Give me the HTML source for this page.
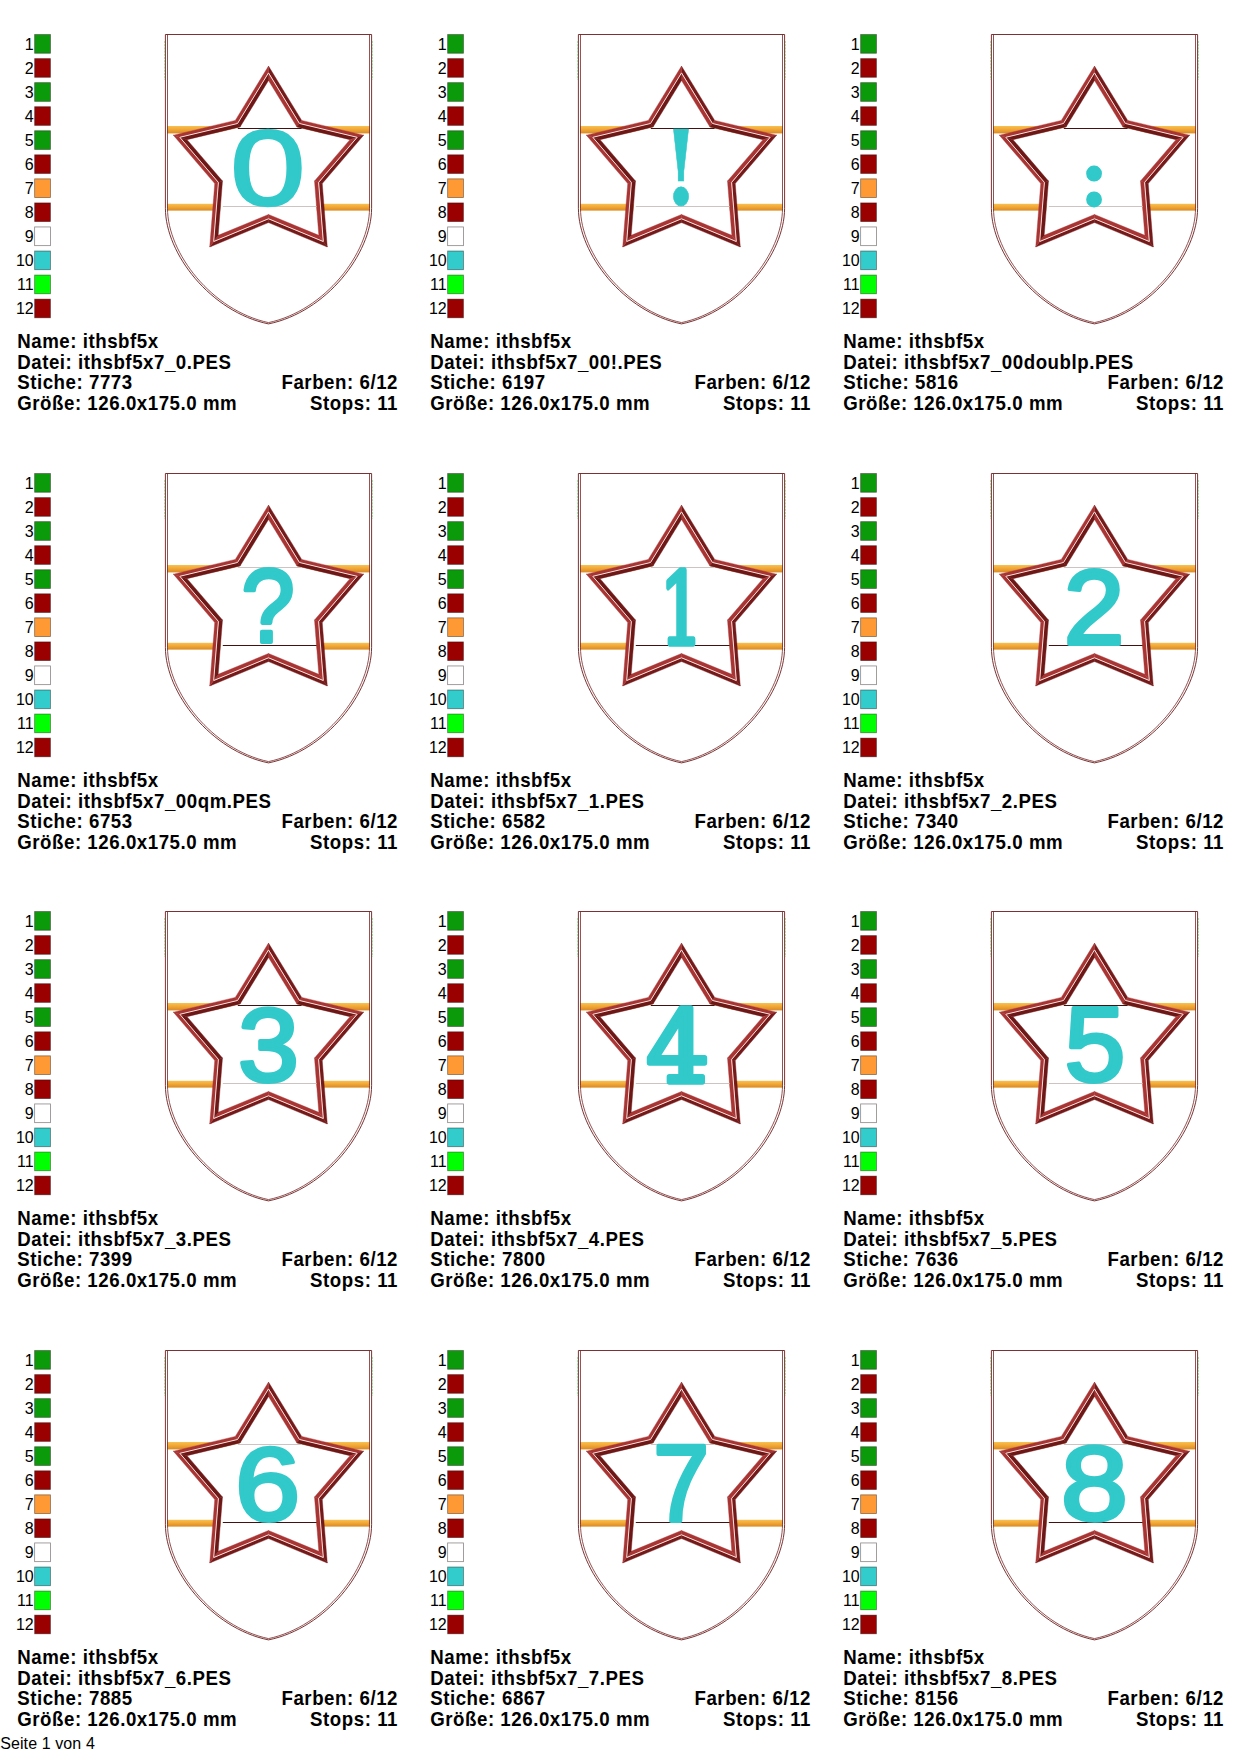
<!DOCTYPE html>
<html lang="de"><head><meta charset="utf-8"><title>Seite 1 von 4</title>
<style>
html,body{margin:0;padding:0;background:#fff;}
body{width:1240px;height:1754px;position:relative;overflow:hidden;font-family:"Liberation Sans",sans-serif;color:#000;}
.c{position:absolute;width:413px;height:438px;}
.d{position:absolute;left:0;top:0;}
.t{position:absolute;font-weight:bold;font-size:18.67px;line-height:21px;height:21px;white-space:nowrap;letter-spacing:0.55px;transform:scaleY(1.065);transform-origin:0 16.97px;}
.l{left:17.2px;}
.r{right:15px;text-align:right;}
.f{position:absolute;left:0.2px;top:1735.3px;font-size:16px;line-height:18px;white-space:nowrap;letter-spacing:0.1px;}
</style></head><body>
<div class="c" style="left:0px;top:0px"><svg class="d" width="413" height="438" viewBox="0 0 413 438"><defs><linearGradient id="og0" x1="0" y1="0" x2="0" y2="1"><stop offset="0" stop-color="#f8c04e"/><stop offset="0.45" stop-color="#f2a838"/><stop offset="1" stop-color="#d98a22"/></linearGradient></defs><rect x="167" y="126" width="203" height="7.4" fill="url(#og0)"/><rect x="167" y="203.8" width="203" height="6.8" fill="url(#og0)"/><path d="M165.40,34.5 H371.60 V208.3 C371.60,253.70 326.00,312.20 268.5,323.90 C211.00,312.20 165.40,253.70 165.40,208.3 Z" fill="none" stroke="#6a1c1c" stroke-width="0.9"/><path d="M167.50,34.5 M369.50,34.5 V208.3 C369.50,253.20 324.80,310.70 268.5,322.60 C212.20,310.70 167.50,253.20 167.50,208.3 V34.5" fill="none" stroke="#782626" stroke-width="0.8"/><path d="M164.5,41 V80 M372.5,41 V80" stroke="#8fd88f" stroke-width="0.8" stroke-dasharray="2 1.2" fill="none"/><polygon points="268.50,80.47 296.94,126.96 349.94,139.64 314.51,181.05 318.83,235.37 268.50,214.48 218.17,235.37 222.49,181.05 187.06,139.64 240.06,126.96" fill="#fff"/><polygon points="268.50,66.10 301.71,120.39 299.47,123.48 268.50,72.86" fill="#741a1a" stroke="#741a1a" stroke-width="0.4"/><polygon points="268.50,72.86 299.47,123.48 296.94,126.96 268.50,80.47" fill="#a83434" stroke="#a83434" stroke-width="0.4"/><polygon points="301.71,120.39 363.61,135.20 357.18,137.29 299.47,123.48" fill="#a83434" stroke="#a83434" stroke-width="0.4"/><polygon points="299.47,123.48 357.18,137.29 349.94,139.64 296.94,126.96" fill="#6e1717" stroke="#6e1717" stroke-width="0.4"/><polygon points="363.61,135.20 322.23,183.56 318.60,182.38 357.18,137.29" fill="#741a1a" stroke="#741a1a" stroke-width="0.4"/><polygon points="357.18,137.29 318.60,182.38 314.51,181.05 349.94,139.64" fill="#a83434" stroke="#a83434" stroke-width="0.4"/><polygon points="322.23,183.56 327.28,247.00 323.31,241.54 318.60,182.38" fill="#741a1a" stroke="#741a1a" stroke-width="0.4"/><polygon points="318.60,182.38 323.31,241.54 318.83,235.37 314.51,181.05" fill="#a83434" stroke="#a83434" stroke-width="0.4"/><polygon points="327.28,247.00 268.50,222.60 268.50,218.78 323.31,241.54" fill="#741a1a" stroke="#741a1a" stroke-width="0.4"/><polygon points="323.31,241.54 268.50,218.78 268.50,214.48 318.83,235.37" fill="#a83434" stroke="#a83434" stroke-width="0.4"/><polygon points="268.50,222.60 209.72,247.00 213.69,241.54 268.50,218.78" fill="#741a1a" stroke="#741a1a" stroke-width="0.4"/><polygon points="268.50,218.78 213.69,241.54 218.17,235.37 268.50,214.48" fill="#a83434" stroke="#a83434" stroke-width="0.4"/><polygon points="209.72,247.00 214.77,183.56 218.40,182.38 213.69,241.54" fill="#a83434" stroke="#a83434" stroke-width="0.4"/><polygon points="213.69,241.54 218.40,182.38 222.49,181.05 218.17,235.37" fill="#6e1717" stroke="#6e1717" stroke-width="0.4"/><polygon points="214.77,183.56 173.39,135.20 179.82,137.29 218.40,182.38" fill="#a83434" stroke="#a83434" stroke-width="0.4"/><polygon points="218.40,182.38 179.82,137.29 187.06,139.64 222.49,181.05" fill="#6e1717" stroke="#6e1717" stroke-width="0.4"/><polygon points="173.39,135.20 235.29,120.39 237.53,123.48 179.82,137.29" fill="#a83434" stroke="#a83434" stroke-width="0.4"/><polygon points="179.82,137.29 237.53,123.48 240.06,126.96 187.06,139.64" fill="#6e1717" stroke="#6e1717" stroke-width="0.4"/><polygon points="235.29,120.39 268.50,66.10 268.50,72.86 237.53,123.48" fill="#a83434" stroke="#a83434" stroke-width="0.4"/><polygon points="237.53,123.48 268.50,72.86 268.50,80.47 240.06,126.96" fill="#6e1717" stroke="#6e1717" stroke-width="0.4"/><polygon points="268.50,72.86 299.47,123.48 357.18,137.29 318.60,182.38 323.31,241.54 268.50,218.78 213.69,241.54 218.40,182.38 179.82,137.29 237.53,123.48" fill="none" stroke="#fbe4de" stroke-width="1" stroke-linejoin="miter"/><path d="M237.8,128.5 H301.6" stroke="#451010" stroke-width="1"/><path d="M222.8,206.5 H316.6" stroke="#cdc3c3" stroke-width="1"/><text transform="matrix(1.3515 0 0 1.0706 230.23 205.43)" x="0" y="0" font-family="'Liberation Sans',sans-serif" font-weight="normal" font-size="100" fill="#31c9c9" stroke="#31c9c9" stroke-width="2.31" stroke-linejoin="round">0</text><g font-family="'Liberation Sans',sans-serif" font-size="16" text-anchor="end" fill="#000"><rect x="34.65" y="34.55" width="15.8" height="18.7" fill="#0a9a0a" stroke="#1a0d0d" stroke-opacity="0.5" stroke-width="0.8"/><text x="33.7" y="49.85">1</text><rect x="34.65" y="58.60" width="15.8" height="18.7" fill="#9a0000" stroke="#1a0d0d" stroke-opacity="0.5" stroke-width="0.8"/><text x="33.7" y="73.90">2</text><rect x="34.65" y="82.65" width="15.8" height="18.7" fill="#0a9a0a" stroke="#1a0d0d" stroke-opacity="0.5" stroke-width="0.8"/><text x="33.7" y="97.95">3</text><rect x="34.65" y="106.70" width="15.8" height="18.7" fill="#9a0000" stroke="#1a0d0d" stroke-opacity="0.5" stroke-width="0.8"/><text x="33.7" y="122.00">4</text><rect x="34.65" y="130.75" width="15.8" height="18.7" fill="#0a9a0a" stroke="#1a0d0d" stroke-opacity="0.5" stroke-width="0.8"/><text x="33.7" y="146.05">5</text><rect x="34.65" y="154.80" width="15.8" height="18.7" fill="#9a0000" stroke="#1a0d0d" stroke-opacity="0.5" stroke-width="0.8"/><text x="33.7" y="170.10">6</text><rect x="34.65" y="178.85" width="15.8" height="18.7" fill="#ff9933" stroke="#1a0d0d" stroke-opacity="0.5" stroke-width="0.8"/><text x="33.7" y="194.15">7</text><rect x="34.65" y="202.90" width="15.8" height="18.7" fill="#9a0000" stroke="#1a0d0d" stroke-opacity="0.5" stroke-width="0.8"/><text x="33.7" y="218.20">8</text><rect x="34.65" y="226.95" width="15.8" height="18.7" fill="#ffffff" stroke="#1a0d0d" stroke-opacity="0.5" stroke-width="0.8"/><text x="33.7" y="242.25">9</text><rect x="34.65" y="251.00" width="15.8" height="18.7" fill="#33cccc" stroke="#1a0d0d" stroke-opacity="0.5" stroke-width="0.8"/><text x="33.7" y="266.30">10</text><rect x="34.65" y="275.05" width="15.8" height="18.7" fill="#00ff00" stroke="#1a0d0d" stroke-opacity="0.5" stroke-width="0.8"/><text x="33.7" y="290.35">11</text><rect x="34.65" y="299.10" width="15.8" height="18.7" fill="#9a0000" stroke="#1a0d0d" stroke-opacity="0.5" stroke-width="0.8"/><text x="33.7" y="314.40">12</text></g></svg><div class="t l" style="top:330.83px">Name: ithsbf5x</div><div class="t l" style="top:351.63px">Datei: ithsbf5x7_0.PES</div><div class="t l" style="top:372.43px">Stiche: 7773</div><div class="t r" style="top:372.43px">Farben: 6/12</div><div class="t l" style="top:393.23px">Größe: 126.0x175.0 mm</div><div class="t r" style="top:393.23px">Stops: 11</div></div>
<div class="c" style="left:413px;top:0px"><svg class="d" width="413" height="438" viewBox="0 0 413 438"><defs><linearGradient id="og1" x1="0" y1="0" x2="0" y2="1"><stop offset="0" stop-color="#f8c04e"/><stop offset="0.45" stop-color="#f2a838"/><stop offset="1" stop-color="#d98a22"/></linearGradient></defs><rect x="167" y="126" width="203" height="7.4" fill="url(#og1)"/><rect x="167" y="203.8" width="203" height="6.8" fill="url(#og1)"/><path d="M165.40,34.5 H371.60 V208.3 C371.60,253.70 326.00,312.20 268.5,323.90 C211.00,312.20 165.40,253.70 165.40,208.3 Z" fill="none" stroke="#6a1c1c" stroke-width="0.9"/><path d="M167.50,34.5 M369.50,34.5 V208.3 C369.50,253.20 324.80,310.70 268.5,322.60 C212.20,310.70 167.50,253.20 167.50,208.3 V34.5" fill="none" stroke="#782626" stroke-width="0.8"/><path d="M164.5,41 V80 M372.5,41 V80" stroke="#8fd88f" stroke-width="0.8" stroke-dasharray="2 1.2" fill="none"/><polygon points="268.50,80.47 296.94,126.96 349.94,139.64 314.51,181.05 318.83,235.37 268.50,214.48 218.17,235.37 222.49,181.05 187.06,139.64 240.06,126.96" fill="#fff"/><polygon points="268.50,66.10 301.71,120.39 299.47,123.48 268.50,72.86" fill="#741a1a" stroke="#741a1a" stroke-width="0.4"/><polygon points="268.50,72.86 299.47,123.48 296.94,126.96 268.50,80.47" fill="#a83434" stroke="#a83434" stroke-width="0.4"/><polygon points="301.71,120.39 363.61,135.20 357.18,137.29 299.47,123.48" fill="#a83434" stroke="#a83434" stroke-width="0.4"/><polygon points="299.47,123.48 357.18,137.29 349.94,139.64 296.94,126.96" fill="#6e1717" stroke="#6e1717" stroke-width="0.4"/><polygon points="363.61,135.20 322.23,183.56 318.60,182.38 357.18,137.29" fill="#741a1a" stroke="#741a1a" stroke-width="0.4"/><polygon points="357.18,137.29 318.60,182.38 314.51,181.05 349.94,139.64" fill="#a83434" stroke="#a83434" stroke-width="0.4"/><polygon points="322.23,183.56 327.28,247.00 323.31,241.54 318.60,182.38" fill="#741a1a" stroke="#741a1a" stroke-width="0.4"/><polygon points="318.60,182.38 323.31,241.54 318.83,235.37 314.51,181.05" fill="#a83434" stroke="#a83434" stroke-width="0.4"/><polygon points="327.28,247.00 268.50,222.60 268.50,218.78 323.31,241.54" fill="#741a1a" stroke="#741a1a" stroke-width="0.4"/><polygon points="323.31,241.54 268.50,218.78 268.50,214.48 318.83,235.37" fill="#a83434" stroke="#a83434" stroke-width="0.4"/><polygon points="268.50,222.60 209.72,247.00 213.69,241.54 268.50,218.78" fill="#741a1a" stroke="#741a1a" stroke-width="0.4"/><polygon points="268.50,218.78 213.69,241.54 218.17,235.37 268.50,214.48" fill="#a83434" stroke="#a83434" stroke-width="0.4"/><polygon points="209.72,247.00 214.77,183.56 218.40,182.38 213.69,241.54" fill="#a83434" stroke="#a83434" stroke-width="0.4"/><polygon points="213.69,241.54 218.40,182.38 222.49,181.05 218.17,235.37" fill="#6e1717" stroke="#6e1717" stroke-width="0.4"/><polygon points="214.77,183.56 173.39,135.20 179.82,137.29 218.40,182.38" fill="#a83434" stroke="#a83434" stroke-width="0.4"/><polygon points="218.40,182.38 179.82,137.29 187.06,139.64 222.49,181.05" fill="#6e1717" stroke="#6e1717" stroke-width="0.4"/><polygon points="173.39,135.20 235.29,120.39 237.53,123.48 179.82,137.29" fill="#a83434" stroke="#a83434" stroke-width="0.4"/><polygon points="179.82,137.29 237.53,123.48 240.06,126.96 187.06,139.64" fill="#6e1717" stroke="#6e1717" stroke-width="0.4"/><polygon points="235.29,120.39 268.50,66.10 268.50,72.86 237.53,123.48" fill="#a83434" stroke="#a83434" stroke-width="0.4"/><polygon points="237.53,123.48 268.50,72.86 268.50,80.47 240.06,126.96" fill="#6e1717" stroke="#6e1717" stroke-width="0.4"/><polygon points="268.50,72.86 299.47,123.48 357.18,137.29 318.60,182.38 323.31,241.54 268.50,218.78 213.69,241.54 218.40,182.38 179.82,137.29 237.53,123.48" fill="none" stroke="#fbe4de" stroke-width="1" stroke-linejoin="miter"/><path d="M237.8,128.5 H301.6" stroke="#451010" stroke-width="1"/><path d="M222.8,206.5 H316.6" stroke="#cdc3c3" stroke-width="1"/><text transform="matrix(0.8216 0 0 1.0256 249.97 204.96)" x="0" y="0" font-family="'DejaVu Serif','Liberation Serif',serif" font-weight="bold" font-size="100" fill="#31c9c9" stroke="#31c9c9" stroke-width="0.65" stroke-linejoin="round">!</text><g font-family="'Liberation Sans',sans-serif" font-size="16" text-anchor="end" fill="#000"><rect x="34.65" y="34.55" width="15.8" height="18.7" fill="#0a9a0a" stroke="#1a0d0d" stroke-opacity="0.5" stroke-width="0.8"/><text x="33.7" y="49.85">1</text><rect x="34.65" y="58.60" width="15.8" height="18.7" fill="#9a0000" stroke="#1a0d0d" stroke-opacity="0.5" stroke-width="0.8"/><text x="33.7" y="73.90">2</text><rect x="34.65" y="82.65" width="15.8" height="18.7" fill="#0a9a0a" stroke="#1a0d0d" stroke-opacity="0.5" stroke-width="0.8"/><text x="33.7" y="97.95">3</text><rect x="34.65" y="106.70" width="15.8" height="18.7" fill="#9a0000" stroke="#1a0d0d" stroke-opacity="0.5" stroke-width="0.8"/><text x="33.7" y="122.00">4</text><rect x="34.65" y="130.75" width="15.8" height="18.7" fill="#0a9a0a" stroke="#1a0d0d" stroke-opacity="0.5" stroke-width="0.8"/><text x="33.7" y="146.05">5</text><rect x="34.65" y="154.80" width="15.8" height="18.7" fill="#9a0000" stroke="#1a0d0d" stroke-opacity="0.5" stroke-width="0.8"/><text x="33.7" y="170.10">6</text><rect x="34.65" y="178.85" width="15.8" height="18.7" fill="#ff9933" stroke="#1a0d0d" stroke-opacity="0.5" stroke-width="0.8"/><text x="33.7" y="194.15">7</text><rect x="34.65" y="202.90" width="15.8" height="18.7" fill="#9a0000" stroke="#1a0d0d" stroke-opacity="0.5" stroke-width="0.8"/><text x="33.7" y="218.20">8</text><rect x="34.65" y="226.95" width="15.8" height="18.7" fill="#ffffff" stroke="#1a0d0d" stroke-opacity="0.5" stroke-width="0.8"/><text x="33.7" y="242.25">9</text><rect x="34.65" y="251.00" width="15.8" height="18.7" fill="#33cccc" stroke="#1a0d0d" stroke-opacity="0.5" stroke-width="0.8"/><text x="33.7" y="266.30">10</text><rect x="34.65" y="275.05" width="15.8" height="18.7" fill="#00ff00" stroke="#1a0d0d" stroke-opacity="0.5" stroke-width="0.8"/><text x="33.7" y="290.35">11</text><rect x="34.65" y="299.10" width="15.8" height="18.7" fill="#9a0000" stroke="#1a0d0d" stroke-opacity="0.5" stroke-width="0.8"/><text x="33.7" y="314.40">12</text></g></svg><div class="t l" style="top:330.83px">Name: ithsbf5x</div><div class="t l" style="top:351.63px">Datei: ithsbf5x7_00!.PES</div><div class="t l" style="top:372.43px">Stiche: 6197</div><div class="t r" style="top:372.43px">Farben: 6/12</div><div class="t l" style="top:393.23px">Größe: 126.0x175.0 mm</div><div class="t r" style="top:393.23px">Stops: 11</div></div>
<div class="c" style="left:826px;top:0px"><svg class="d" width="413" height="438" viewBox="0 0 413 438"><defs><linearGradient id="og2" x1="0" y1="0" x2="0" y2="1"><stop offset="0" stop-color="#f8c04e"/><stop offset="0.45" stop-color="#f2a838"/><stop offset="1" stop-color="#d98a22"/></linearGradient></defs><rect x="167" y="126" width="203" height="7.4" fill="url(#og2)"/><rect x="167" y="203.8" width="203" height="6.8" fill="url(#og2)"/><path d="M165.40,34.5 H371.60 V208.3 C371.60,253.70 326.00,312.20 268.5,323.90 C211.00,312.20 165.40,253.70 165.40,208.3 Z" fill="none" stroke="#6a1c1c" stroke-width="0.9"/><path d="M167.50,34.5 M369.50,34.5 V208.3 C369.50,253.20 324.80,310.70 268.5,322.60 C212.20,310.70 167.50,253.20 167.50,208.3 V34.5" fill="none" stroke="#782626" stroke-width="0.8"/><path d="M164.5,41 V80 M372.5,41 V80" stroke="#8fd88f" stroke-width="0.8" stroke-dasharray="2 1.2" fill="none"/><polygon points="268.50,80.47 296.94,126.96 349.94,139.64 314.51,181.05 318.83,235.37 268.50,214.48 218.17,235.37 222.49,181.05 187.06,139.64 240.06,126.96" fill="#fff"/><polygon points="268.50,66.10 301.71,120.39 299.47,123.48 268.50,72.86" fill="#741a1a" stroke="#741a1a" stroke-width="0.4"/><polygon points="268.50,72.86 299.47,123.48 296.94,126.96 268.50,80.47" fill="#a83434" stroke="#a83434" stroke-width="0.4"/><polygon points="301.71,120.39 363.61,135.20 357.18,137.29 299.47,123.48" fill="#a83434" stroke="#a83434" stroke-width="0.4"/><polygon points="299.47,123.48 357.18,137.29 349.94,139.64 296.94,126.96" fill="#6e1717" stroke="#6e1717" stroke-width="0.4"/><polygon points="363.61,135.20 322.23,183.56 318.60,182.38 357.18,137.29" fill="#741a1a" stroke="#741a1a" stroke-width="0.4"/><polygon points="357.18,137.29 318.60,182.38 314.51,181.05 349.94,139.64" fill="#a83434" stroke="#a83434" stroke-width="0.4"/><polygon points="322.23,183.56 327.28,247.00 323.31,241.54 318.60,182.38" fill="#741a1a" stroke="#741a1a" stroke-width="0.4"/><polygon points="318.60,182.38 323.31,241.54 318.83,235.37 314.51,181.05" fill="#a83434" stroke="#a83434" stroke-width="0.4"/><polygon points="327.28,247.00 268.50,222.60 268.50,218.78 323.31,241.54" fill="#741a1a" stroke="#741a1a" stroke-width="0.4"/><polygon points="323.31,241.54 268.50,218.78 268.50,214.48 318.83,235.37" fill="#a83434" stroke="#a83434" stroke-width="0.4"/><polygon points="268.50,222.60 209.72,247.00 213.69,241.54 268.50,218.78" fill="#741a1a" stroke="#741a1a" stroke-width="0.4"/><polygon points="268.50,218.78 213.69,241.54 218.17,235.37 268.50,214.48" fill="#a83434" stroke="#a83434" stroke-width="0.4"/><polygon points="209.72,247.00 214.77,183.56 218.40,182.38 213.69,241.54" fill="#a83434" stroke="#a83434" stroke-width="0.4"/><polygon points="213.69,241.54 218.40,182.38 222.49,181.05 218.17,235.37" fill="#6e1717" stroke="#6e1717" stroke-width="0.4"/><polygon points="214.77,183.56 173.39,135.20 179.82,137.29 218.40,182.38" fill="#a83434" stroke="#a83434" stroke-width="0.4"/><polygon points="218.40,182.38 179.82,137.29 187.06,139.64 222.49,181.05" fill="#6e1717" stroke="#6e1717" stroke-width="0.4"/><polygon points="173.39,135.20 235.29,120.39 237.53,123.48 179.82,137.29" fill="#a83434" stroke="#a83434" stroke-width="0.4"/><polygon points="179.82,137.29 237.53,123.48 240.06,126.96 187.06,139.64" fill="#6e1717" stroke="#6e1717" stroke-width="0.4"/><polygon points="235.29,120.39 268.50,66.10 268.50,72.86 237.53,123.48" fill="#a83434" stroke="#a83434" stroke-width="0.4"/><polygon points="237.53,123.48 268.50,72.86 268.50,80.47 240.06,126.96" fill="#6e1717" stroke="#6e1717" stroke-width="0.4"/><polygon points="268.50,72.86 299.47,123.48 357.18,137.29 318.60,182.38 323.31,241.54 268.50,218.78 213.69,241.54 218.40,182.38 179.82,137.29 237.53,123.48" fill="none" stroke="#fbe4de" stroke-width="1" stroke-linejoin="miter"/><path d="M237.8,128.5 H301.6" stroke="#451010" stroke-width="1"/><path d="M222.8,206.5 H316.6" stroke="#cdc3c3" stroke-width="1"/><text transform="matrix(0.8025 0 0 0.8033 254.92 204.78)" x="0" y="0" font-family="'Liberation Serif',serif" font-weight="bold" font-size="100" fill="#31c9c9" stroke="#31c9c9" stroke-width="3.49" stroke-linejoin="round">:</text><g font-family="'Liberation Sans',sans-serif" font-size="16" text-anchor="end" fill="#000"><rect x="34.65" y="34.55" width="15.8" height="18.7" fill="#0a9a0a" stroke="#1a0d0d" stroke-opacity="0.5" stroke-width="0.8"/><text x="33.7" y="49.85">1</text><rect x="34.65" y="58.60" width="15.8" height="18.7" fill="#9a0000" stroke="#1a0d0d" stroke-opacity="0.5" stroke-width="0.8"/><text x="33.7" y="73.90">2</text><rect x="34.65" y="82.65" width="15.8" height="18.7" fill="#0a9a0a" stroke="#1a0d0d" stroke-opacity="0.5" stroke-width="0.8"/><text x="33.7" y="97.95">3</text><rect x="34.65" y="106.70" width="15.8" height="18.7" fill="#9a0000" stroke="#1a0d0d" stroke-opacity="0.5" stroke-width="0.8"/><text x="33.7" y="122.00">4</text><rect x="34.65" y="130.75" width="15.8" height="18.7" fill="#0a9a0a" stroke="#1a0d0d" stroke-opacity="0.5" stroke-width="0.8"/><text x="33.7" y="146.05">5</text><rect x="34.65" y="154.80" width="15.8" height="18.7" fill="#9a0000" stroke="#1a0d0d" stroke-opacity="0.5" stroke-width="0.8"/><text x="33.7" y="170.10">6</text><rect x="34.65" y="178.85" width="15.8" height="18.7" fill="#ff9933" stroke="#1a0d0d" stroke-opacity="0.5" stroke-width="0.8"/><text x="33.7" y="194.15">7</text><rect x="34.65" y="202.90" width="15.8" height="18.7" fill="#9a0000" stroke="#1a0d0d" stroke-opacity="0.5" stroke-width="0.8"/><text x="33.7" y="218.20">8</text><rect x="34.65" y="226.95" width="15.8" height="18.7" fill="#ffffff" stroke="#1a0d0d" stroke-opacity="0.5" stroke-width="0.8"/><text x="33.7" y="242.25">9</text><rect x="34.65" y="251.00" width="15.8" height="18.7" fill="#33cccc" stroke="#1a0d0d" stroke-opacity="0.5" stroke-width="0.8"/><text x="33.7" y="266.30">10</text><rect x="34.65" y="275.05" width="15.8" height="18.7" fill="#00ff00" stroke="#1a0d0d" stroke-opacity="0.5" stroke-width="0.8"/><text x="33.7" y="290.35">11</text><rect x="34.65" y="299.10" width="15.8" height="18.7" fill="#9a0000" stroke="#1a0d0d" stroke-opacity="0.5" stroke-width="0.8"/><text x="33.7" y="314.40">12</text></g></svg><div class="t l" style="top:330.83px">Name: ithsbf5x</div><div class="t l" style="top:351.63px">Datei: ithsbf5x7_00doublp.PES</div><div class="t l" style="top:372.43px">Stiche: 5816</div><div class="t r" style="top:372.43px">Farben: 6/12</div><div class="t l" style="top:393.23px">Größe: 126.0x175.0 mm</div><div class="t r" style="top:393.23px">Stops: 11</div></div>
<div class="c" style="left:0px;top:439px"><svg class="d" width="413" height="438" viewBox="0 0 413 438"><defs><linearGradient id="og3" x1="0" y1="0" x2="0" y2="1"><stop offset="0" stop-color="#f8c04e"/><stop offset="0.45" stop-color="#f2a838"/><stop offset="1" stop-color="#d98a22"/></linearGradient></defs><rect x="167" y="126" width="203" height="7.4" fill="url(#og3)"/><rect x="167" y="203.8" width="203" height="6.8" fill="url(#og3)"/><path d="M165.40,34.5 H371.60 V208.3 C371.60,253.70 326.00,312.20 268.5,323.90 C211.00,312.20 165.40,253.70 165.40,208.3 Z" fill="none" stroke="#6a1c1c" stroke-width="0.9"/><path d="M167.50,34.5 M369.50,34.5 V208.3 C369.50,253.20 324.80,310.70 268.5,322.60 C212.20,310.70 167.50,253.20 167.50,208.3 V34.5" fill="none" stroke="#782626" stroke-width="0.8"/><path d="M164.5,41 V80 M372.5,41 V80" stroke="#8fd88f" stroke-width="0.8" stroke-dasharray="2 1.2" fill="none"/><polygon points="268.50,80.47 296.94,126.96 349.94,139.64 314.51,181.05 318.83,235.37 268.50,214.48 218.17,235.37 222.49,181.05 187.06,139.64 240.06,126.96" fill="#fff"/><polygon points="268.50,66.10 301.71,120.39 299.47,123.48 268.50,72.86" fill="#741a1a" stroke="#741a1a" stroke-width="0.4"/><polygon points="268.50,72.86 299.47,123.48 296.94,126.96 268.50,80.47" fill="#a83434" stroke="#a83434" stroke-width="0.4"/><polygon points="301.71,120.39 363.61,135.20 357.18,137.29 299.47,123.48" fill="#a83434" stroke="#a83434" stroke-width="0.4"/><polygon points="299.47,123.48 357.18,137.29 349.94,139.64 296.94,126.96" fill="#6e1717" stroke="#6e1717" stroke-width="0.4"/><polygon points="363.61,135.20 322.23,183.56 318.60,182.38 357.18,137.29" fill="#741a1a" stroke="#741a1a" stroke-width="0.4"/><polygon points="357.18,137.29 318.60,182.38 314.51,181.05 349.94,139.64" fill="#a83434" stroke="#a83434" stroke-width="0.4"/><polygon points="322.23,183.56 327.28,247.00 323.31,241.54 318.60,182.38" fill="#741a1a" stroke="#741a1a" stroke-width="0.4"/><polygon points="318.60,182.38 323.31,241.54 318.83,235.37 314.51,181.05" fill="#a83434" stroke="#a83434" stroke-width="0.4"/><polygon points="327.28,247.00 268.50,222.60 268.50,218.78 323.31,241.54" fill="#741a1a" stroke="#741a1a" stroke-width="0.4"/><polygon points="323.31,241.54 268.50,218.78 268.50,214.48 318.83,235.37" fill="#a83434" stroke="#a83434" stroke-width="0.4"/><polygon points="268.50,222.60 209.72,247.00 213.69,241.54 268.50,218.78" fill="#741a1a" stroke="#741a1a" stroke-width="0.4"/><polygon points="268.50,218.78 213.69,241.54 218.17,235.37 268.50,214.48" fill="#a83434" stroke="#a83434" stroke-width="0.4"/><polygon points="209.72,247.00 214.77,183.56 218.40,182.38 213.69,241.54" fill="#a83434" stroke="#a83434" stroke-width="0.4"/><polygon points="213.69,241.54 218.40,182.38 222.49,181.05 218.17,235.37" fill="#6e1717" stroke="#6e1717" stroke-width="0.4"/><polygon points="214.77,183.56 173.39,135.20 179.82,137.29 218.40,182.38" fill="#a83434" stroke="#a83434" stroke-width="0.4"/><polygon points="218.40,182.38 179.82,137.29 187.06,139.64 222.49,181.05" fill="#6e1717" stroke="#6e1717" stroke-width="0.4"/><polygon points="173.39,135.20 235.29,120.39 237.53,123.48 179.82,137.29" fill="#a83434" stroke="#a83434" stroke-width="0.4"/><polygon points="179.82,137.29 237.53,123.48 240.06,126.96 187.06,139.64" fill="#6e1717" stroke="#6e1717" stroke-width="0.4"/><polygon points="235.29,120.39 268.50,66.10 268.50,72.86 237.53,123.48" fill="#a83434" stroke="#a83434" stroke-width="0.4"/><polygon points="237.53,123.48 268.50,72.86 268.50,80.47 240.06,126.96" fill="#6e1717" stroke="#6e1717" stroke-width="0.4"/><polygon points="268.50,72.86 299.47,123.48 357.18,137.29 318.60,182.38 323.31,241.54 268.50,218.78 213.69,241.54 218.40,182.38 179.82,137.29 237.53,123.48" fill="none" stroke="#fbe4de" stroke-width="1" stroke-linejoin="miter"/><path d="M237.8,128.5 H301.6" stroke="#cdc3c3" stroke-width="1"/><path d="M222.8,206.5 H316.6" stroke="#451010" stroke-width="1"/><text transform="matrix(0.9540 0 0 1.0344 241.59 203.40)" x="0" y="0" font-family="'Liberation Sans',sans-serif" font-weight="normal" font-size="100" fill="#31c9c9" stroke="#31c9c9" stroke-width="4.02" stroke-linejoin="round">?</text><g font-family="'Liberation Sans',sans-serif" font-size="16" text-anchor="end" fill="#000"><rect x="34.65" y="34.55" width="15.8" height="18.7" fill="#0a9a0a" stroke="#1a0d0d" stroke-opacity="0.5" stroke-width="0.8"/><text x="33.7" y="49.85">1</text><rect x="34.65" y="58.60" width="15.8" height="18.7" fill="#9a0000" stroke="#1a0d0d" stroke-opacity="0.5" stroke-width="0.8"/><text x="33.7" y="73.90">2</text><rect x="34.65" y="82.65" width="15.8" height="18.7" fill="#0a9a0a" stroke="#1a0d0d" stroke-opacity="0.5" stroke-width="0.8"/><text x="33.7" y="97.95">3</text><rect x="34.65" y="106.70" width="15.8" height="18.7" fill="#9a0000" stroke="#1a0d0d" stroke-opacity="0.5" stroke-width="0.8"/><text x="33.7" y="122.00">4</text><rect x="34.65" y="130.75" width="15.8" height="18.7" fill="#0a9a0a" stroke="#1a0d0d" stroke-opacity="0.5" stroke-width="0.8"/><text x="33.7" y="146.05">5</text><rect x="34.65" y="154.80" width="15.8" height="18.7" fill="#9a0000" stroke="#1a0d0d" stroke-opacity="0.5" stroke-width="0.8"/><text x="33.7" y="170.10">6</text><rect x="34.65" y="178.85" width="15.8" height="18.7" fill="#ff9933" stroke="#1a0d0d" stroke-opacity="0.5" stroke-width="0.8"/><text x="33.7" y="194.15">7</text><rect x="34.65" y="202.90" width="15.8" height="18.7" fill="#9a0000" stroke="#1a0d0d" stroke-opacity="0.5" stroke-width="0.8"/><text x="33.7" y="218.20">8</text><rect x="34.65" y="226.95" width="15.8" height="18.7" fill="#ffffff" stroke="#1a0d0d" stroke-opacity="0.5" stroke-width="0.8"/><text x="33.7" y="242.25">9</text><rect x="34.65" y="251.00" width="15.8" height="18.7" fill="#33cccc" stroke="#1a0d0d" stroke-opacity="0.5" stroke-width="0.8"/><text x="33.7" y="266.30">10</text><rect x="34.65" y="275.05" width="15.8" height="18.7" fill="#00ff00" stroke="#1a0d0d" stroke-opacity="0.5" stroke-width="0.8"/><text x="33.7" y="290.35">11</text><rect x="34.65" y="299.10" width="15.8" height="18.7" fill="#9a0000" stroke="#1a0d0d" stroke-opacity="0.5" stroke-width="0.8"/><text x="33.7" y="314.40">12</text></g></svg><div class="t l" style="top:330.83px">Name: ithsbf5x</div><div class="t l" style="top:351.63px">Datei: ithsbf5x7_00qm.PES</div><div class="t l" style="top:372.43px">Stiche: 6753</div><div class="t r" style="top:372.43px">Farben: 6/12</div><div class="t l" style="top:393.23px">Größe: 126.0x175.0 mm</div><div class="t r" style="top:393.23px">Stops: 11</div></div>
<div class="c" style="left:413px;top:439px"><svg class="d" width="413" height="438" viewBox="0 0 413 438"><defs><linearGradient id="og4" x1="0" y1="0" x2="0" y2="1"><stop offset="0" stop-color="#f8c04e"/><stop offset="0.45" stop-color="#f2a838"/><stop offset="1" stop-color="#d98a22"/></linearGradient></defs><rect x="167" y="126" width="203" height="7.4" fill="url(#og4)"/><rect x="167" y="203.8" width="203" height="6.8" fill="url(#og4)"/><path d="M165.40,34.5 H371.60 V208.3 C371.60,253.70 326.00,312.20 268.5,323.90 C211.00,312.20 165.40,253.70 165.40,208.3 Z" fill="none" stroke="#6a1c1c" stroke-width="0.9"/><path d="M167.50,34.5 M369.50,34.5 V208.3 C369.50,253.20 324.80,310.70 268.5,322.60 C212.20,310.70 167.50,253.20 167.50,208.3 V34.5" fill="none" stroke="#782626" stroke-width="0.8"/><path d="M164.5,41 V80 M372.5,41 V80" stroke="#8fd88f" stroke-width="0.8" stroke-dasharray="2 1.2" fill="none"/><polygon points="268.50,80.47 296.94,126.96 349.94,139.64 314.51,181.05 318.83,235.37 268.50,214.48 218.17,235.37 222.49,181.05 187.06,139.64 240.06,126.96" fill="#fff"/><polygon points="268.50,66.10 301.71,120.39 299.47,123.48 268.50,72.86" fill="#741a1a" stroke="#741a1a" stroke-width="0.4"/><polygon points="268.50,72.86 299.47,123.48 296.94,126.96 268.50,80.47" fill="#a83434" stroke="#a83434" stroke-width="0.4"/><polygon points="301.71,120.39 363.61,135.20 357.18,137.29 299.47,123.48" fill="#a83434" stroke="#a83434" stroke-width="0.4"/><polygon points="299.47,123.48 357.18,137.29 349.94,139.64 296.94,126.96" fill="#6e1717" stroke="#6e1717" stroke-width="0.4"/><polygon points="363.61,135.20 322.23,183.56 318.60,182.38 357.18,137.29" fill="#741a1a" stroke="#741a1a" stroke-width="0.4"/><polygon points="357.18,137.29 318.60,182.38 314.51,181.05 349.94,139.64" fill="#a83434" stroke="#a83434" stroke-width="0.4"/><polygon points="322.23,183.56 327.28,247.00 323.31,241.54 318.60,182.38" fill="#741a1a" stroke="#741a1a" stroke-width="0.4"/><polygon points="318.60,182.38 323.31,241.54 318.83,235.37 314.51,181.05" fill="#a83434" stroke="#a83434" stroke-width="0.4"/><polygon points="327.28,247.00 268.50,222.60 268.50,218.78 323.31,241.54" fill="#741a1a" stroke="#741a1a" stroke-width="0.4"/><polygon points="323.31,241.54 268.50,218.78 268.50,214.48 318.83,235.37" fill="#a83434" stroke="#a83434" stroke-width="0.4"/><polygon points="268.50,222.60 209.72,247.00 213.69,241.54 268.50,218.78" fill="#741a1a" stroke="#741a1a" stroke-width="0.4"/><polygon points="268.50,218.78 213.69,241.54 218.17,235.37 268.50,214.48" fill="#a83434" stroke="#a83434" stroke-width="0.4"/><polygon points="209.72,247.00 214.77,183.56 218.40,182.38 213.69,241.54" fill="#a83434" stroke="#a83434" stroke-width="0.4"/><polygon points="213.69,241.54 218.40,182.38 222.49,181.05 218.17,235.37" fill="#6e1717" stroke="#6e1717" stroke-width="0.4"/><polygon points="214.77,183.56 173.39,135.20 179.82,137.29 218.40,182.38" fill="#a83434" stroke="#a83434" stroke-width="0.4"/><polygon points="218.40,182.38 179.82,137.29 187.06,139.64 222.49,181.05" fill="#6e1717" stroke="#6e1717" stroke-width="0.4"/><polygon points="173.39,135.20 235.29,120.39 237.53,123.48 179.82,137.29" fill="#a83434" stroke="#a83434" stroke-width="0.4"/><polygon points="179.82,137.29 237.53,123.48 240.06,126.96 187.06,139.64" fill="#6e1717" stroke="#6e1717" stroke-width="0.4"/><polygon points="235.29,120.39 268.50,66.10 268.50,72.86 237.53,123.48" fill="#a83434" stroke="#a83434" stroke-width="0.4"/><polygon points="237.53,123.48 268.50,72.86 268.50,80.47 240.06,126.96" fill="#6e1717" stroke="#6e1717" stroke-width="0.4"/><polygon points="268.50,72.86 299.47,123.48 357.18,137.29 318.60,182.38 323.31,241.54 268.50,218.78 213.69,241.54 218.40,182.38 179.82,137.29 237.53,123.48" fill="none" stroke="#fbe4de" stroke-width="1" stroke-linejoin="miter"/><path d="M237.8,128.5 H301.6" stroke="#cdc3c3" stroke-width="1"/><path d="M222.8,206.5 H316.6" stroke="#451010" stroke-width="1"/><text transform="matrix(0.6828 0 0 0.9892 246.82 204.85)" x="0" y="0" font-family="'DejaVu Serif','Liberation Serif',serif" font-weight="normal" font-size="100" fill="#31c9c9" stroke="#31c9c9" stroke-width="5.38" stroke-linejoin="round">1</text><g font-family="'Liberation Sans',sans-serif" font-size="16" text-anchor="end" fill="#000"><rect x="34.65" y="34.55" width="15.8" height="18.7" fill="#0a9a0a" stroke="#1a0d0d" stroke-opacity="0.5" stroke-width="0.8"/><text x="33.7" y="49.85">1</text><rect x="34.65" y="58.60" width="15.8" height="18.7" fill="#9a0000" stroke="#1a0d0d" stroke-opacity="0.5" stroke-width="0.8"/><text x="33.7" y="73.90">2</text><rect x="34.65" y="82.65" width="15.8" height="18.7" fill="#0a9a0a" stroke="#1a0d0d" stroke-opacity="0.5" stroke-width="0.8"/><text x="33.7" y="97.95">3</text><rect x="34.65" y="106.70" width="15.8" height="18.7" fill="#9a0000" stroke="#1a0d0d" stroke-opacity="0.5" stroke-width="0.8"/><text x="33.7" y="122.00">4</text><rect x="34.65" y="130.75" width="15.8" height="18.7" fill="#0a9a0a" stroke="#1a0d0d" stroke-opacity="0.5" stroke-width="0.8"/><text x="33.7" y="146.05">5</text><rect x="34.65" y="154.80" width="15.8" height="18.7" fill="#9a0000" stroke="#1a0d0d" stroke-opacity="0.5" stroke-width="0.8"/><text x="33.7" y="170.10">6</text><rect x="34.65" y="178.85" width="15.8" height="18.7" fill="#ff9933" stroke="#1a0d0d" stroke-opacity="0.5" stroke-width="0.8"/><text x="33.7" y="194.15">7</text><rect x="34.65" y="202.90" width="15.8" height="18.7" fill="#9a0000" stroke="#1a0d0d" stroke-opacity="0.5" stroke-width="0.8"/><text x="33.7" y="218.20">8</text><rect x="34.65" y="226.95" width="15.8" height="18.7" fill="#ffffff" stroke="#1a0d0d" stroke-opacity="0.5" stroke-width="0.8"/><text x="33.7" y="242.25">9</text><rect x="34.65" y="251.00" width="15.8" height="18.7" fill="#33cccc" stroke="#1a0d0d" stroke-opacity="0.5" stroke-width="0.8"/><text x="33.7" y="266.30">10</text><rect x="34.65" y="275.05" width="15.8" height="18.7" fill="#00ff00" stroke="#1a0d0d" stroke-opacity="0.5" stroke-width="0.8"/><text x="33.7" y="290.35">11</text><rect x="34.65" y="299.10" width="15.8" height="18.7" fill="#9a0000" stroke="#1a0d0d" stroke-opacity="0.5" stroke-width="0.8"/><text x="33.7" y="314.40">12</text></g></svg><div class="t l" style="top:330.83px">Name: ithsbf5x</div><div class="t l" style="top:351.63px">Datei: ithsbf5x7_1.PES</div><div class="t l" style="top:372.43px">Stiche: 6582</div><div class="t r" style="top:372.43px">Farben: 6/12</div><div class="t l" style="top:393.23px">Größe: 126.0x175.0 mm</div><div class="t r" style="top:393.23px">Stops: 11</div></div>
<div class="c" style="left:826px;top:439px"><svg class="d" width="413" height="438" viewBox="0 0 413 438"><defs><linearGradient id="og5" x1="0" y1="0" x2="0" y2="1"><stop offset="0" stop-color="#f8c04e"/><stop offset="0.45" stop-color="#f2a838"/><stop offset="1" stop-color="#d98a22"/></linearGradient></defs><rect x="167" y="126" width="203" height="7.4" fill="url(#og5)"/><rect x="167" y="203.8" width="203" height="6.8" fill="url(#og5)"/><path d="M165.40,34.5 H371.60 V208.3 C371.60,253.70 326.00,312.20 268.5,323.90 C211.00,312.20 165.40,253.70 165.40,208.3 Z" fill="none" stroke="#6a1c1c" stroke-width="0.9"/><path d="M167.50,34.5 M369.50,34.5 V208.3 C369.50,253.20 324.80,310.70 268.5,322.60 C212.20,310.70 167.50,253.20 167.50,208.3 V34.5" fill="none" stroke="#782626" stroke-width="0.8"/><path d="M164.5,41 V80 M372.5,41 V80" stroke="#8fd88f" stroke-width="0.8" stroke-dasharray="2 1.2" fill="none"/><polygon points="268.50,80.47 296.94,126.96 349.94,139.64 314.51,181.05 318.83,235.37 268.50,214.48 218.17,235.37 222.49,181.05 187.06,139.64 240.06,126.96" fill="#fff"/><polygon points="268.50,66.10 301.71,120.39 299.47,123.48 268.50,72.86" fill="#741a1a" stroke="#741a1a" stroke-width="0.4"/><polygon points="268.50,72.86 299.47,123.48 296.94,126.96 268.50,80.47" fill="#a83434" stroke="#a83434" stroke-width="0.4"/><polygon points="301.71,120.39 363.61,135.20 357.18,137.29 299.47,123.48" fill="#a83434" stroke="#a83434" stroke-width="0.4"/><polygon points="299.47,123.48 357.18,137.29 349.94,139.64 296.94,126.96" fill="#6e1717" stroke="#6e1717" stroke-width="0.4"/><polygon points="363.61,135.20 322.23,183.56 318.60,182.38 357.18,137.29" fill="#741a1a" stroke="#741a1a" stroke-width="0.4"/><polygon points="357.18,137.29 318.60,182.38 314.51,181.05 349.94,139.64" fill="#a83434" stroke="#a83434" stroke-width="0.4"/><polygon points="322.23,183.56 327.28,247.00 323.31,241.54 318.60,182.38" fill="#741a1a" stroke="#741a1a" stroke-width="0.4"/><polygon points="318.60,182.38 323.31,241.54 318.83,235.37 314.51,181.05" fill="#a83434" stroke="#a83434" stroke-width="0.4"/><polygon points="327.28,247.00 268.50,222.60 268.50,218.78 323.31,241.54" fill="#741a1a" stroke="#741a1a" stroke-width="0.4"/><polygon points="323.31,241.54 268.50,218.78 268.50,214.48 318.83,235.37" fill="#a83434" stroke="#a83434" stroke-width="0.4"/><polygon points="268.50,222.60 209.72,247.00 213.69,241.54 268.50,218.78" fill="#741a1a" stroke="#741a1a" stroke-width="0.4"/><polygon points="268.50,218.78 213.69,241.54 218.17,235.37 268.50,214.48" fill="#a83434" stroke="#a83434" stroke-width="0.4"/><polygon points="209.72,247.00 214.77,183.56 218.40,182.38 213.69,241.54" fill="#a83434" stroke="#a83434" stroke-width="0.4"/><polygon points="213.69,241.54 218.40,182.38 222.49,181.05 218.17,235.37" fill="#6e1717" stroke="#6e1717" stroke-width="0.4"/><polygon points="214.77,183.56 173.39,135.20 179.82,137.29 218.40,182.38" fill="#a83434" stroke="#a83434" stroke-width="0.4"/><polygon points="218.40,182.38 179.82,137.29 187.06,139.64 222.49,181.05" fill="#6e1717" stroke="#6e1717" stroke-width="0.4"/><polygon points="173.39,135.20 235.29,120.39 237.53,123.48 179.82,137.29" fill="#a83434" stroke="#a83434" stroke-width="0.4"/><polygon points="179.82,137.29 237.53,123.48 240.06,126.96 187.06,139.64" fill="#6e1717" stroke="#6e1717" stroke-width="0.4"/><polygon points="235.29,120.39 268.50,66.10 268.50,72.86 237.53,123.48" fill="#a83434" stroke="#a83434" stroke-width="0.4"/><polygon points="237.53,123.48 268.50,72.86 268.50,80.47 240.06,126.96" fill="#6e1717" stroke="#6e1717" stroke-width="0.4"/><polygon points="268.50,72.86 299.47,123.48 357.18,137.29 318.60,182.38 323.31,241.54 268.50,218.78 213.69,241.54 218.40,182.38 179.82,137.29 237.53,123.48" fill="none" stroke="#fbe4de" stroke-width="1" stroke-linejoin="miter"/><path d="M237.8,128.5 H301.6" stroke="#cdc3c3" stroke-width="1"/><path d="M222.8,206.5 H316.6" stroke="#451010" stroke-width="1"/><text transform="matrix(1.0899 0 0 1.0587 237.85 204.60)" x="0" y="0" font-family="'Liberation Sans',sans-serif" font-weight="normal" font-size="100" fill="#31c9c9" stroke="#31c9c9" stroke-width="3.72" stroke-linejoin="round">2</text><g font-family="'Liberation Sans',sans-serif" font-size="16" text-anchor="end" fill="#000"><rect x="34.65" y="34.55" width="15.8" height="18.7" fill="#0a9a0a" stroke="#1a0d0d" stroke-opacity="0.5" stroke-width="0.8"/><text x="33.7" y="49.85">1</text><rect x="34.65" y="58.60" width="15.8" height="18.7" fill="#9a0000" stroke="#1a0d0d" stroke-opacity="0.5" stroke-width="0.8"/><text x="33.7" y="73.90">2</text><rect x="34.65" y="82.65" width="15.8" height="18.7" fill="#0a9a0a" stroke="#1a0d0d" stroke-opacity="0.5" stroke-width="0.8"/><text x="33.7" y="97.95">3</text><rect x="34.65" y="106.70" width="15.8" height="18.7" fill="#9a0000" stroke="#1a0d0d" stroke-opacity="0.5" stroke-width="0.8"/><text x="33.7" y="122.00">4</text><rect x="34.65" y="130.75" width="15.8" height="18.7" fill="#0a9a0a" stroke="#1a0d0d" stroke-opacity="0.5" stroke-width="0.8"/><text x="33.7" y="146.05">5</text><rect x="34.65" y="154.80" width="15.8" height="18.7" fill="#9a0000" stroke="#1a0d0d" stroke-opacity="0.5" stroke-width="0.8"/><text x="33.7" y="170.10">6</text><rect x="34.65" y="178.85" width="15.8" height="18.7" fill="#ff9933" stroke="#1a0d0d" stroke-opacity="0.5" stroke-width="0.8"/><text x="33.7" y="194.15">7</text><rect x="34.65" y="202.90" width="15.8" height="18.7" fill="#9a0000" stroke="#1a0d0d" stroke-opacity="0.5" stroke-width="0.8"/><text x="33.7" y="218.20">8</text><rect x="34.65" y="226.95" width="15.8" height="18.7" fill="#ffffff" stroke="#1a0d0d" stroke-opacity="0.5" stroke-width="0.8"/><text x="33.7" y="242.25">9</text><rect x="34.65" y="251.00" width="15.8" height="18.7" fill="#33cccc" stroke="#1a0d0d" stroke-opacity="0.5" stroke-width="0.8"/><text x="33.7" y="266.30">10</text><rect x="34.65" y="275.05" width="15.8" height="18.7" fill="#00ff00" stroke="#1a0d0d" stroke-opacity="0.5" stroke-width="0.8"/><text x="33.7" y="290.35">11</text><rect x="34.65" y="299.10" width="15.8" height="18.7" fill="#9a0000" stroke="#1a0d0d" stroke-opacity="0.5" stroke-width="0.8"/><text x="33.7" y="314.40">12</text></g></svg><div class="t l" style="top:330.83px">Name: ithsbf5x</div><div class="t l" style="top:351.63px">Datei: ithsbf5x7_2.PES</div><div class="t l" style="top:372.43px">Stiche: 7340</div><div class="t r" style="top:372.43px">Farben: 6/12</div><div class="t l" style="top:393.23px">Größe: 126.0x175.0 mm</div><div class="t r" style="top:393.23px">Stops: 11</div></div>
<div class="c" style="left:0px;top:877px"><svg class="d" width="413" height="438" viewBox="0 0 413 438"><defs><linearGradient id="og6" x1="0" y1="0" x2="0" y2="1"><stop offset="0" stop-color="#f8c04e"/><stop offset="0.45" stop-color="#f2a838"/><stop offset="1" stop-color="#d98a22"/></linearGradient></defs><rect x="167" y="126" width="203" height="7.4" fill="url(#og6)"/><rect x="167" y="203.8" width="203" height="6.8" fill="url(#og6)"/><path d="M165.40,34.5 H371.60 V208.3 C371.60,253.70 326.00,312.20 268.5,323.90 C211.00,312.20 165.40,253.70 165.40,208.3 Z" fill="none" stroke="#6a1c1c" stroke-width="0.9"/><path d="M167.50,34.5 M369.50,34.5 V208.3 C369.50,253.20 324.80,310.70 268.5,322.60 C212.20,310.70 167.50,253.20 167.50,208.3 V34.5" fill="none" stroke="#782626" stroke-width="0.8"/><path d="M164.5,41 V80 M372.5,41 V80" stroke="#8fd88f" stroke-width="0.8" stroke-dasharray="2 1.2" fill="none"/><polygon points="268.50,80.47 296.94,126.96 349.94,139.64 314.51,181.05 318.83,235.37 268.50,214.48 218.17,235.37 222.49,181.05 187.06,139.64 240.06,126.96" fill="#fff"/><polygon points="268.50,66.10 301.71,120.39 299.47,123.48 268.50,72.86" fill="#741a1a" stroke="#741a1a" stroke-width="0.4"/><polygon points="268.50,72.86 299.47,123.48 296.94,126.96 268.50,80.47" fill="#a83434" stroke="#a83434" stroke-width="0.4"/><polygon points="301.71,120.39 363.61,135.20 357.18,137.29 299.47,123.48" fill="#a83434" stroke="#a83434" stroke-width="0.4"/><polygon points="299.47,123.48 357.18,137.29 349.94,139.64 296.94,126.96" fill="#6e1717" stroke="#6e1717" stroke-width="0.4"/><polygon points="363.61,135.20 322.23,183.56 318.60,182.38 357.18,137.29" fill="#741a1a" stroke="#741a1a" stroke-width="0.4"/><polygon points="357.18,137.29 318.60,182.38 314.51,181.05 349.94,139.64" fill="#a83434" stroke="#a83434" stroke-width="0.4"/><polygon points="322.23,183.56 327.28,247.00 323.31,241.54 318.60,182.38" fill="#741a1a" stroke="#741a1a" stroke-width="0.4"/><polygon points="318.60,182.38 323.31,241.54 318.83,235.37 314.51,181.05" fill="#a83434" stroke="#a83434" stroke-width="0.4"/><polygon points="327.28,247.00 268.50,222.60 268.50,218.78 323.31,241.54" fill="#741a1a" stroke="#741a1a" stroke-width="0.4"/><polygon points="323.31,241.54 268.50,218.78 268.50,214.48 318.83,235.37" fill="#a83434" stroke="#a83434" stroke-width="0.4"/><polygon points="268.50,222.60 209.72,247.00 213.69,241.54 268.50,218.78" fill="#741a1a" stroke="#741a1a" stroke-width="0.4"/><polygon points="268.50,218.78 213.69,241.54 218.17,235.37 268.50,214.48" fill="#a83434" stroke="#a83434" stroke-width="0.4"/><polygon points="209.72,247.00 214.77,183.56 218.40,182.38 213.69,241.54" fill="#a83434" stroke="#a83434" stroke-width="0.4"/><polygon points="213.69,241.54 218.40,182.38 222.49,181.05 218.17,235.37" fill="#6e1717" stroke="#6e1717" stroke-width="0.4"/><polygon points="214.77,183.56 173.39,135.20 179.82,137.29 218.40,182.38" fill="#a83434" stroke="#a83434" stroke-width="0.4"/><polygon points="218.40,182.38 179.82,137.29 187.06,139.64 222.49,181.05" fill="#6e1717" stroke="#6e1717" stroke-width="0.4"/><polygon points="173.39,135.20 235.29,120.39 237.53,123.48 179.82,137.29" fill="#a83434" stroke="#a83434" stroke-width="0.4"/><polygon points="179.82,137.29 237.53,123.48 240.06,126.96 187.06,139.64" fill="#6e1717" stroke="#6e1717" stroke-width="0.4"/><polygon points="235.29,120.39 268.50,66.10 268.50,72.86 237.53,123.48" fill="#a83434" stroke="#a83434" stroke-width="0.4"/><polygon points="237.53,123.48 268.50,72.86 268.50,80.47 240.06,126.96" fill="#6e1717" stroke="#6e1717" stroke-width="0.4"/><polygon points="268.50,72.86 299.47,123.48 357.18,137.29 318.60,182.38 323.31,241.54 268.50,218.78 213.69,241.54 218.40,182.38 179.82,137.29 237.53,123.48" fill="none" stroke="#fbe4de" stroke-width="1" stroke-linejoin="miter"/><path d="M237.8,128.5 H301.6" stroke="#451010" stroke-width="1"/><path d="M222.8,206.5 H316.6" stroke="#cdc3c3" stroke-width="1"/><text transform="matrix(1.0949 0 0 1.0438 237.94 204.36)" x="0" y="0" font-family="'Liberation Sans',sans-serif" font-weight="normal" font-size="100" fill="#31c9c9" stroke="#31c9c9" stroke-width="3.74" stroke-linejoin="round">3</text><g font-family="'Liberation Sans',sans-serif" font-size="16" text-anchor="end" fill="#000"><rect x="34.65" y="34.55" width="15.8" height="18.7" fill="#0a9a0a" stroke="#1a0d0d" stroke-opacity="0.5" stroke-width="0.8"/><text x="33.7" y="49.85">1</text><rect x="34.65" y="58.60" width="15.8" height="18.7" fill="#9a0000" stroke="#1a0d0d" stroke-opacity="0.5" stroke-width="0.8"/><text x="33.7" y="73.90">2</text><rect x="34.65" y="82.65" width="15.8" height="18.7" fill="#0a9a0a" stroke="#1a0d0d" stroke-opacity="0.5" stroke-width="0.8"/><text x="33.7" y="97.95">3</text><rect x="34.65" y="106.70" width="15.8" height="18.7" fill="#9a0000" stroke="#1a0d0d" stroke-opacity="0.5" stroke-width="0.8"/><text x="33.7" y="122.00">4</text><rect x="34.65" y="130.75" width="15.8" height="18.7" fill="#0a9a0a" stroke="#1a0d0d" stroke-opacity="0.5" stroke-width="0.8"/><text x="33.7" y="146.05">5</text><rect x="34.65" y="154.80" width="15.8" height="18.7" fill="#9a0000" stroke="#1a0d0d" stroke-opacity="0.5" stroke-width="0.8"/><text x="33.7" y="170.10">6</text><rect x="34.65" y="178.85" width="15.8" height="18.7" fill="#ff9933" stroke="#1a0d0d" stroke-opacity="0.5" stroke-width="0.8"/><text x="33.7" y="194.15">7</text><rect x="34.65" y="202.90" width="15.8" height="18.7" fill="#9a0000" stroke="#1a0d0d" stroke-opacity="0.5" stroke-width="0.8"/><text x="33.7" y="218.20">8</text><rect x="34.65" y="226.95" width="15.8" height="18.7" fill="#ffffff" stroke="#1a0d0d" stroke-opacity="0.5" stroke-width="0.8"/><text x="33.7" y="242.25">9</text><rect x="34.65" y="251.00" width="15.8" height="18.7" fill="#33cccc" stroke="#1a0d0d" stroke-opacity="0.5" stroke-width="0.8"/><text x="33.7" y="266.30">10</text><rect x="34.65" y="275.05" width="15.8" height="18.7" fill="#00ff00" stroke="#1a0d0d" stroke-opacity="0.5" stroke-width="0.8"/><text x="33.7" y="290.35">11</text><rect x="34.65" y="299.10" width="15.8" height="18.7" fill="#9a0000" stroke="#1a0d0d" stroke-opacity="0.5" stroke-width="0.8"/><text x="33.7" y="314.40">12</text></g></svg><div class="t l" style="top:330.83px">Name: ithsbf5x</div><div class="t l" style="top:351.63px">Datei: ithsbf5x7_3.PES</div><div class="t l" style="top:372.43px">Stiche: 7399</div><div class="t r" style="top:372.43px">Farben: 6/12</div><div class="t l" style="top:393.23px">Größe: 126.0x175.0 mm</div><div class="t r" style="top:393.23px">Stops: 11</div></div>
<div class="c" style="left:413px;top:877px"><svg class="d" width="413" height="438" viewBox="0 0 413 438"><defs><linearGradient id="og7" x1="0" y1="0" x2="0" y2="1"><stop offset="0" stop-color="#f8c04e"/><stop offset="0.45" stop-color="#f2a838"/><stop offset="1" stop-color="#d98a22"/></linearGradient></defs><rect x="167" y="126" width="203" height="7.4" fill="url(#og7)"/><rect x="167" y="203.8" width="203" height="6.8" fill="url(#og7)"/><path d="M165.40,34.5 H371.60 V208.3 C371.60,253.70 326.00,312.20 268.5,323.90 C211.00,312.20 165.40,253.70 165.40,208.3 Z" fill="none" stroke="#6a1c1c" stroke-width="0.9"/><path d="M167.50,34.5 M369.50,34.5 V208.3 C369.50,253.20 324.80,310.70 268.5,322.60 C212.20,310.70 167.50,253.20 167.50,208.3 V34.5" fill="none" stroke="#782626" stroke-width="0.8"/><path d="M164.5,41 V80 M372.5,41 V80" stroke="#8fd88f" stroke-width="0.8" stroke-dasharray="2 1.2" fill="none"/><polygon points="268.50,80.47 296.94,126.96 349.94,139.64 314.51,181.05 318.83,235.37 268.50,214.48 218.17,235.37 222.49,181.05 187.06,139.64 240.06,126.96" fill="#fff"/><polygon points="268.50,66.10 301.71,120.39 299.47,123.48 268.50,72.86" fill="#741a1a" stroke="#741a1a" stroke-width="0.4"/><polygon points="268.50,72.86 299.47,123.48 296.94,126.96 268.50,80.47" fill="#a83434" stroke="#a83434" stroke-width="0.4"/><polygon points="301.71,120.39 363.61,135.20 357.18,137.29 299.47,123.48" fill="#a83434" stroke="#a83434" stroke-width="0.4"/><polygon points="299.47,123.48 357.18,137.29 349.94,139.64 296.94,126.96" fill="#6e1717" stroke="#6e1717" stroke-width="0.4"/><polygon points="363.61,135.20 322.23,183.56 318.60,182.38 357.18,137.29" fill="#741a1a" stroke="#741a1a" stroke-width="0.4"/><polygon points="357.18,137.29 318.60,182.38 314.51,181.05 349.94,139.64" fill="#a83434" stroke="#a83434" stroke-width="0.4"/><polygon points="322.23,183.56 327.28,247.00 323.31,241.54 318.60,182.38" fill="#741a1a" stroke="#741a1a" stroke-width="0.4"/><polygon points="318.60,182.38 323.31,241.54 318.83,235.37 314.51,181.05" fill="#a83434" stroke="#a83434" stroke-width="0.4"/><polygon points="327.28,247.00 268.50,222.60 268.50,218.78 323.31,241.54" fill="#741a1a" stroke="#741a1a" stroke-width="0.4"/><polygon points="323.31,241.54 268.50,218.78 268.50,214.48 318.83,235.37" fill="#a83434" stroke="#a83434" stroke-width="0.4"/><polygon points="268.50,222.60 209.72,247.00 213.69,241.54 268.50,218.78" fill="#741a1a" stroke="#741a1a" stroke-width="0.4"/><polygon points="268.50,218.78 213.69,241.54 218.17,235.37 268.50,214.48" fill="#a83434" stroke="#a83434" stroke-width="0.4"/><polygon points="209.72,247.00 214.77,183.56 218.40,182.38 213.69,241.54" fill="#a83434" stroke="#a83434" stroke-width="0.4"/><polygon points="213.69,241.54 218.40,182.38 222.49,181.05 218.17,235.37" fill="#6e1717" stroke="#6e1717" stroke-width="0.4"/><polygon points="214.77,183.56 173.39,135.20 179.82,137.29 218.40,182.38" fill="#a83434" stroke="#a83434" stroke-width="0.4"/><polygon points="218.40,182.38 179.82,137.29 187.06,139.64 222.49,181.05" fill="#6e1717" stroke="#6e1717" stroke-width="0.4"/><polygon points="173.39,135.20 235.29,120.39 237.53,123.48 179.82,137.29" fill="#a83434" stroke="#a83434" stroke-width="0.4"/><polygon points="179.82,137.29 237.53,123.48 240.06,126.96 187.06,139.64" fill="#6e1717" stroke="#6e1717" stroke-width="0.4"/><polygon points="235.29,120.39 268.50,66.10 268.50,72.86 237.53,123.48" fill="#a83434" stroke="#a83434" stroke-width="0.4"/><polygon points="237.53,123.48 268.50,72.86 268.50,80.47 240.06,126.96" fill="#6e1717" stroke="#6e1717" stroke-width="0.4"/><polygon points="268.50,72.86 299.47,123.48 357.18,137.29 318.60,182.38 323.31,241.54 268.50,218.78 213.69,241.54 218.40,182.38 179.82,137.29 237.53,123.48" fill="none" stroke="#fbe4de" stroke-width="1" stroke-linejoin="miter"/><path d="M237.8,128.5 H301.6" stroke="#451010" stroke-width="1"/><path d="M222.8,206.5 H316.6" stroke="#cdc3c3" stroke-width="1"/><text transform="matrix(0.9892 0 0 0.9825 233.38 204.65)" x="0" y="0" font-family="'DejaVu Serif','Liberation Serif',serif" font-weight="normal" font-size="100" fill="#31c9c9" stroke="#31c9c9" stroke-width="5.58" stroke-linejoin="round">4</text><g font-family="'Liberation Sans',sans-serif" font-size="16" text-anchor="end" fill="#000"><rect x="34.65" y="34.55" width="15.8" height="18.7" fill="#0a9a0a" stroke="#1a0d0d" stroke-opacity="0.5" stroke-width="0.8"/><text x="33.7" y="49.85">1</text><rect x="34.65" y="58.60" width="15.8" height="18.7" fill="#9a0000" stroke="#1a0d0d" stroke-opacity="0.5" stroke-width="0.8"/><text x="33.7" y="73.90">2</text><rect x="34.65" y="82.65" width="15.8" height="18.7" fill="#0a9a0a" stroke="#1a0d0d" stroke-opacity="0.5" stroke-width="0.8"/><text x="33.7" y="97.95">3</text><rect x="34.65" y="106.70" width="15.8" height="18.7" fill="#9a0000" stroke="#1a0d0d" stroke-opacity="0.5" stroke-width="0.8"/><text x="33.7" y="122.00">4</text><rect x="34.65" y="130.75" width="15.8" height="18.7" fill="#0a9a0a" stroke="#1a0d0d" stroke-opacity="0.5" stroke-width="0.8"/><text x="33.7" y="146.05">5</text><rect x="34.65" y="154.80" width="15.8" height="18.7" fill="#9a0000" stroke="#1a0d0d" stroke-opacity="0.5" stroke-width="0.8"/><text x="33.7" y="170.10">6</text><rect x="34.65" y="178.85" width="15.8" height="18.7" fill="#ff9933" stroke="#1a0d0d" stroke-opacity="0.5" stroke-width="0.8"/><text x="33.7" y="194.15">7</text><rect x="34.65" y="202.90" width="15.8" height="18.7" fill="#9a0000" stroke="#1a0d0d" stroke-opacity="0.5" stroke-width="0.8"/><text x="33.7" y="218.20">8</text><rect x="34.65" y="226.95" width="15.8" height="18.7" fill="#ffffff" stroke="#1a0d0d" stroke-opacity="0.5" stroke-width="0.8"/><text x="33.7" y="242.25">9</text><rect x="34.65" y="251.00" width="15.8" height="18.7" fill="#33cccc" stroke="#1a0d0d" stroke-opacity="0.5" stroke-width="0.8"/><text x="33.7" y="266.30">10</text><rect x="34.65" y="275.05" width="15.8" height="18.7" fill="#00ff00" stroke="#1a0d0d" stroke-opacity="0.5" stroke-width="0.8"/><text x="33.7" y="290.35">11</text><rect x="34.65" y="299.10" width="15.8" height="18.7" fill="#9a0000" stroke="#1a0d0d" stroke-opacity="0.5" stroke-width="0.8"/><text x="33.7" y="314.40">12</text></g></svg><div class="t l" style="top:330.83px">Name: ithsbf5x</div><div class="t l" style="top:351.63px">Datei: ithsbf5x7_4.PES</div><div class="t l" style="top:372.43px">Stiche: 7800</div><div class="t r" style="top:372.43px">Farben: 6/12</div><div class="t l" style="top:393.23px">Größe: 126.0x175.0 mm</div><div class="t r" style="top:393.23px">Stops: 11</div></div>
<div class="c" style="left:826px;top:877px"><svg class="d" width="413" height="438" viewBox="0 0 413 438"><defs><linearGradient id="og8" x1="0" y1="0" x2="0" y2="1"><stop offset="0" stop-color="#f8c04e"/><stop offset="0.45" stop-color="#f2a838"/><stop offset="1" stop-color="#d98a22"/></linearGradient></defs><rect x="167" y="126" width="203" height="7.4" fill="url(#og8)"/><rect x="167" y="203.8" width="203" height="6.8" fill="url(#og8)"/><path d="M165.40,34.5 H371.60 V208.3 C371.60,253.70 326.00,312.20 268.5,323.90 C211.00,312.20 165.40,253.70 165.40,208.3 Z" fill="none" stroke="#6a1c1c" stroke-width="0.9"/><path d="M167.50,34.5 M369.50,34.5 V208.3 C369.50,253.20 324.80,310.70 268.5,322.60 C212.20,310.70 167.50,253.20 167.50,208.3 V34.5" fill="none" stroke="#782626" stroke-width="0.8"/><path d="M164.5,41 V80 M372.5,41 V80" stroke="#8fd88f" stroke-width="0.8" stroke-dasharray="2 1.2" fill="none"/><polygon points="268.50,80.47 296.94,126.96 349.94,139.64 314.51,181.05 318.83,235.37 268.50,214.48 218.17,235.37 222.49,181.05 187.06,139.64 240.06,126.96" fill="#fff"/><polygon points="268.50,66.10 301.71,120.39 299.47,123.48 268.50,72.86" fill="#741a1a" stroke="#741a1a" stroke-width="0.4"/><polygon points="268.50,72.86 299.47,123.48 296.94,126.96 268.50,80.47" fill="#a83434" stroke="#a83434" stroke-width="0.4"/><polygon points="301.71,120.39 363.61,135.20 357.18,137.29 299.47,123.48" fill="#a83434" stroke="#a83434" stroke-width="0.4"/><polygon points="299.47,123.48 357.18,137.29 349.94,139.64 296.94,126.96" fill="#6e1717" stroke="#6e1717" stroke-width="0.4"/><polygon points="363.61,135.20 322.23,183.56 318.60,182.38 357.18,137.29" fill="#741a1a" stroke="#741a1a" stroke-width="0.4"/><polygon points="357.18,137.29 318.60,182.38 314.51,181.05 349.94,139.64" fill="#a83434" stroke="#a83434" stroke-width="0.4"/><polygon points="322.23,183.56 327.28,247.00 323.31,241.54 318.60,182.38" fill="#741a1a" stroke="#741a1a" stroke-width="0.4"/><polygon points="318.60,182.38 323.31,241.54 318.83,235.37 314.51,181.05" fill="#a83434" stroke="#a83434" stroke-width="0.4"/><polygon points="327.28,247.00 268.50,222.60 268.50,218.78 323.31,241.54" fill="#741a1a" stroke="#741a1a" stroke-width="0.4"/><polygon points="323.31,241.54 268.50,218.78 268.50,214.48 318.83,235.37" fill="#a83434" stroke="#a83434" stroke-width="0.4"/><polygon points="268.50,222.60 209.72,247.00 213.69,241.54 268.50,218.78" fill="#741a1a" stroke="#741a1a" stroke-width="0.4"/><polygon points="268.50,218.78 213.69,241.54 218.17,235.37 268.50,214.48" fill="#a83434" stroke="#a83434" stroke-width="0.4"/><polygon points="209.72,247.00 214.77,183.56 218.40,182.38 213.69,241.54" fill="#a83434" stroke="#a83434" stroke-width="0.4"/><polygon points="213.69,241.54 218.40,182.38 222.49,181.05 218.17,235.37" fill="#6e1717" stroke="#6e1717" stroke-width="0.4"/><polygon points="214.77,183.56 173.39,135.20 179.82,137.29 218.40,182.38" fill="#a83434" stroke="#a83434" stroke-width="0.4"/><polygon points="218.40,182.38 179.82,137.29 187.06,139.64 222.49,181.05" fill="#6e1717" stroke="#6e1717" stroke-width="0.4"/><polygon points="173.39,135.20 235.29,120.39 237.53,123.48 179.82,137.29" fill="#a83434" stroke="#a83434" stroke-width="0.4"/><polygon points="179.82,137.29 237.53,123.48 240.06,126.96 187.06,139.64" fill="#6e1717" stroke="#6e1717" stroke-width="0.4"/><polygon points="235.29,120.39 268.50,66.10 268.50,72.86 237.53,123.48" fill="#a83434" stroke="#a83434" stroke-width="0.4"/><polygon points="237.53,123.48 268.50,72.86 268.50,80.47 240.06,126.96" fill="#6e1717" stroke="#6e1717" stroke-width="0.4"/><polygon points="268.50,72.86 299.47,123.48 357.18,137.29 318.60,182.38 323.31,241.54 268.50,218.78 213.69,241.54 218.40,182.38 179.82,137.29 237.53,123.48" fill="none" stroke="#fbe4de" stroke-width="1" stroke-linejoin="miter"/><path d="M237.8,128.5 H301.6" stroke="#451010" stroke-width="1"/><path d="M222.8,206.5 H316.6" stroke="#cdc3c3" stroke-width="1"/><text transform="matrix(1.0949 0 0 1.0630 238.42 204.34)" x="0" y="0" font-family="'Liberation Sans',sans-serif" font-weight="normal" font-size="100" fill="#31c9c9" stroke="#31c9c9" stroke-width="3.71" stroke-linejoin="round">5</text><g font-family="'Liberation Sans',sans-serif" font-size="16" text-anchor="end" fill="#000"><rect x="34.65" y="34.55" width="15.8" height="18.7" fill="#0a9a0a" stroke="#1a0d0d" stroke-opacity="0.5" stroke-width="0.8"/><text x="33.7" y="49.85">1</text><rect x="34.65" y="58.60" width="15.8" height="18.7" fill="#9a0000" stroke="#1a0d0d" stroke-opacity="0.5" stroke-width="0.8"/><text x="33.7" y="73.90">2</text><rect x="34.65" y="82.65" width="15.8" height="18.7" fill="#0a9a0a" stroke="#1a0d0d" stroke-opacity="0.5" stroke-width="0.8"/><text x="33.7" y="97.95">3</text><rect x="34.65" y="106.70" width="15.8" height="18.7" fill="#9a0000" stroke="#1a0d0d" stroke-opacity="0.5" stroke-width="0.8"/><text x="33.7" y="122.00">4</text><rect x="34.65" y="130.75" width="15.8" height="18.7" fill="#0a9a0a" stroke="#1a0d0d" stroke-opacity="0.5" stroke-width="0.8"/><text x="33.7" y="146.05">5</text><rect x="34.65" y="154.80" width="15.8" height="18.7" fill="#9a0000" stroke="#1a0d0d" stroke-opacity="0.5" stroke-width="0.8"/><text x="33.7" y="170.10">6</text><rect x="34.65" y="178.85" width="15.8" height="18.7" fill="#ff9933" stroke="#1a0d0d" stroke-opacity="0.5" stroke-width="0.8"/><text x="33.7" y="194.15">7</text><rect x="34.65" y="202.90" width="15.8" height="18.7" fill="#9a0000" stroke="#1a0d0d" stroke-opacity="0.5" stroke-width="0.8"/><text x="33.7" y="218.20">8</text><rect x="34.65" y="226.95" width="15.8" height="18.7" fill="#ffffff" stroke="#1a0d0d" stroke-opacity="0.5" stroke-width="0.8"/><text x="33.7" y="242.25">9</text><rect x="34.65" y="251.00" width="15.8" height="18.7" fill="#33cccc" stroke="#1a0d0d" stroke-opacity="0.5" stroke-width="0.8"/><text x="33.7" y="266.30">10</text><rect x="34.65" y="275.05" width="15.8" height="18.7" fill="#00ff00" stroke="#1a0d0d" stroke-opacity="0.5" stroke-width="0.8"/><text x="33.7" y="290.35">11</text><rect x="34.65" y="299.10" width="15.8" height="18.7" fill="#9a0000" stroke="#1a0d0d" stroke-opacity="0.5" stroke-width="0.8"/><text x="33.7" y="314.40">12</text></g></svg><div class="t l" style="top:330.83px">Name: ithsbf5x</div><div class="t l" style="top:351.63px">Datei: ithsbf5x7_5.PES</div><div class="t l" style="top:372.43px">Stiche: 7636</div><div class="t r" style="top:372.43px">Farben: 6/12</div><div class="t l" style="top:393.23px">Größe: 126.0x175.0 mm</div><div class="t r" style="top:393.23px">Stops: 11</div></div>
<div class="c" style="left:0px;top:1316px"><svg class="d" width="413" height="438" viewBox="0 0 413 438"><defs><linearGradient id="og9" x1="0" y1="0" x2="0" y2="1"><stop offset="0" stop-color="#f8c04e"/><stop offset="0.45" stop-color="#f2a838"/><stop offset="1" stop-color="#d98a22"/></linearGradient></defs><rect x="167" y="126" width="203" height="7.4" fill="url(#og9)"/><rect x="167" y="203.8" width="203" height="6.8" fill="url(#og9)"/><path d="M165.40,34.5 H371.60 V208.3 C371.60,253.70 326.00,312.20 268.5,323.90 C211.00,312.20 165.40,253.70 165.40,208.3 Z" fill="none" stroke="#6a1c1c" stroke-width="0.9"/><path d="M167.50,34.5 M369.50,34.5 V208.3 C369.50,253.20 324.80,310.70 268.5,322.60 C212.20,310.70 167.50,253.20 167.50,208.3 V34.5" fill="none" stroke="#782626" stroke-width="0.8"/><path d="M164.5,41 V80 M372.5,41 V80" stroke="#8fd88f" stroke-width="0.8" stroke-dasharray="2 1.2" fill="none"/><polygon points="268.50,80.47 296.94,126.96 349.94,139.64 314.51,181.05 318.83,235.37 268.50,214.48 218.17,235.37 222.49,181.05 187.06,139.64 240.06,126.96" fill="#fff"/><polygon points="268.50,66.10 301.71,120.39 299.47,123.48 268.50,72.86" fill="#741a1a" stroke="#741a1a" stroke-width="0.4"/><polygon points="268.50,72.86 299.47,123.48 296.94,126.96 268.50,80.47" fill="#a83434" stroke="#a83434" stroke-width="0.4"/><polygon points="301.71,120.39 363.61,135.20 357.18,137.29 299.47,123.48" fill="#a83434" stroke="#a83434" stroke-width="0.4"/><polygon points="299.47,123.48 357.18,137.29 349.94,139.64 296.94,126.96" fill="#6e1717" stroke="#6e1717" stroke-width="0.4"/><polygon points="363.61,135.20 322.23,183.56 318.60,182.38 357.18,137.29" fill="#741a1a" stroke="#741a1a" stroke-width="0.4"/><polygon points="357.18,137.29 318.60,182.38 314.51,181.05 349.94,139.64" fill="#a83434" stroke="#a83434" stroke-width="0.4"/><polygon points="322.23,183.56 327.28,247.00 323.31,241.54 318.60,182.38" fill="#741a1a" stroke="#741a1a" stroke-width="0.4"/><polygon points="318.60,182.38 323.31,241.54 318.83,235.37 314.51,181.05" fill="#a83434" stroke="#a83434" stroke-width="0.4"/><polygon points="327.28,247.00 268.50,222.60 268.50,218.78 323.31,241.54" fill="#741a1a" stroke="#741a1a" stroke-width="0.4"/><polygon points="323.31,241.54 268.50,218.78 268.50,214.48 318.83,235.37" fill="#a83434" stroke="#a83434" stroke-width="0.4"/><polygon points="268.50,222.60 209.72,247.00 213.69,241.54 268.50,218.78" fill="#741a1a" stroke="#741a1a" stroke-width="0.4"/><polygon points="268.50,218.78 213.69,241.54 218.17,235.37 268.50,214.48" fill="#a83434" stroke="#a83434" stroke-width="0.4"/><polygon points="209.72,247.00 214.77,183.56 218.40,182.38 213.69,241.54" fill="#a83434" stroke="#a83434" stroke-width="0.4"/><polygon points="213.69,241.54 218.40,182.38 222.49,181.05 218.17,235.37" fill="#6e1717" stroke="#6e1717" stroke-width="0.4"/><polygon points="214.77,183.56 173.39,135.20 179.82,137.29 218.40,182.38" fill="#a83434" stroke="#a83434" stroke-width="0.4"/><polygon points="218.40,182.38 179.82,137.29 187.06,139.64 222.49,181.05" fill="#6e1717" stroke="#6e1717" stroke-width="0.4"/><polygon points="173.39,135.20 235.29,120.39 237.53,123.48 179.82,137.29" fill="#a83434" stroke="#a83434" stroke-width="0.4"/><polygon points="179.82,137.29 237.53,123.48 240.06,126.96 187.06,139.64" fill="#6e1717" stroke="#6e1717" stroke-width="0.4"/><polygon points="235.29,120.39 268.50,66.10 268.50,72.86 237.53,123.48" fill="#a83434" stroke="#a83434" stroke-width="0.4"/><polygon points="237.53,123.48 268.50,72.86 268.50,80.47 240.06,126.96" fill="#6e1717" stroke="#6e1717" stroke-width="0.4"/><polygon points="268.50,72.86 299.47,123.48 357.18,137.29 318.60,182.38 323.31,241.54 268.50,218.78 213.69,241.54 218.40,182.38 179.82,137.29 237.53,123.48" fill="none" stroke="#fbe4de" stroke-width="1" stroke-linejoin="miter"/><path d="M237.8,128.5 H301.6" stroke="#cdc3c3" stroke-width="1"/><path d="M222.8,206.5 H316.6" stroke="#451010" stroke-width="1"/><text transform="matrix(1.1735 0 0 1.0438 235.01 204.26)" x="0" y="0" font-family="'Liberation Sans',sans-serif" font-weight="normal" font-size="100" fill="#31c9c9" stroke="#31c9c9" stroke-width="3.61" stroke-linejoin="round">6</text><g font-family="'Liberation Sans',sans-serif" font-size="16" text-anchor="end" fill="#000"><rect x="34.65" y="34.55" width="15.8" height="18.7" fill="#0a9a0a" stroke="#1a0d0d" stroke-opacity="0.5" stroke-width="0.8"/><text x="33.7" y="49.85">1</text><rect x="34.65" y="58.60" width="15.8" height="18.7" fill="#9a0000" stroke="#1a0d0d" stroke-opacity="0.5" stroke-width="0.8"/><text x="33.7" y="73.90">2</text><rect x="34.65" y="82.65" width="15.8" height="18.7" fill="#0a9a0a" stroke="#1a0d0d" stroke-opacity="0.5" stroke-width="0.8"/><text x="33.7" y="97.95">3</text><rect x="34.65" y="106.70" width="15.8" height="18.7" fill="#9a0000" stroke="#1a0d0d" stroke-opacity="0.5" stroke-width="0.8"/><text x="33.7" y="122.00">4</text><rect x="34.65" y="130.75" width="15.8" height="18.7" fill="#0a9a0a" stroke="#1a0d0d" stroke-opacity="0.5" stroke-width="0.8"/><text x="33.7" y="146.05">5</text><rect x="34.65" y="154.80" width="15.8" height="18.7" fill="#9a0000" stroke="#1a0d0d" stroke-opacity="0.5" stroke-width="0.8"/><text x="33.7" y="170.10">6</text><rect x="34.65" y="178.85" width="15.8" height="18.7" fill="#ff9933" stroke="#1a0d0d" stroke-opacity="0.5" stroke-width="0.8"/><text x="33.7" y="194.15">7</text><rect x="34.65" y="202.90" width="15.8" height="18.7" fill="#9a0000" stroke="#1a0d0d" stroke-opacity="0.5" stroke-width="0.8"/><text x="33.7" y="218.20">8</text><rect x="34.65" y="226.95" width="15.8" height="18.7" fill="#ffffff" stroke="#1a0d0d" stroke-opacity="0.5" stroke-width="0.8"/><text x="33.7" y="242.25">9</text><rect x="34.65" y="251.00" width="15.8" height="18.7" fill="#33cccc" stroke="#1a0d0d" stroke-opacity="0.5" stroke-width="0.8"/><text x="33.7" y="266.30">10</text><rect x="34.65" y="275.05" width="15.8" height="18.7" fill="#00ff00" stroke="#1a0d0d" stroke-opacity="0.5" stroke-width="0.8"/><text x="33.7" y="290.35">11</text><rect x="34.65" y="299.10" width="15.8" height="18.7" fill="#9a0000" stroke="#1a0d0d" stroke-opacity="0.5" stroke-width="0.8"/><text x="33.7" y="314.40">12</text></g></svg><div class="t l" style="top:330.83px">Name: ithsbf5x</div><div class="t l" style="top:351.63px">Datei: ithsbf5x7_6.PES</div><div class="t l" style="top:372.43px">Stiche: 7885</div><div class="t r" style="top:372.43px">Farben: 6/12</div><div class="t l" style="top:393.23px">Größe: 126.0x175.0 mm</div><div class="t r" style="top:393.23px">Stops: 11</div></div>
<div class="c" style="left:413px;top:1316px"><svg class="d" width="413" height="438" viewBox="0 0 413 438"><defs><linearGradient id="og10" x1="0" y1="0" x2="0" y2="1"><stop offset="0" stop-color="#f8c04e"/><stop offset="0.45" stop-color="#f2a838"/><stop offset="1" stop-color="#d98a22"/></linearGradient></defs><rect x="167" y="126" width="203" height="7.4" fill="url(#og10)"/><rect x="167" y="203.8" width="203" height="6.8" fill="url(#og10)"/><path d="M165.40,34.5 H371.60 V208.3 C371.60,253.70 326.00,312.20 268.5,323.90 C211.00,312.20 165.40,253.70 165.40,208.3 Z" fill="none" stroke="#6a1c1c" stroke-width="0.9"/><path d="M167.50,34.5 M369.50,34.5 V208.3 C369.50,253.20 324.80,310.70 268.5,322.60 C212.20,310.70 167.50,253.20 167.50,208.3 V34.5" fill="none" stroke="#782626" stroke-width="0.8"/><path d="M164.5,41 V80 M372.5,41 V80" stroke="#8fd88f" stroke-width="0.8" stroke-dasharray="2 1.2" fill="none"/><polygon points="268.50,80.47 296.94,126.96 349.94,139.64 314.51,181.05 318.83,235.37 268.50,214.48 218.17,235.37 222.49,181.05 187.06,139.64 240.06,126.96" fill="#fff"/><polygon points="268.50,66.10 301.71,120.39 299.47,123.48 268.50,72.86" fill="#741a1a" stroke="#741a1a" stroke-width="0.4"/><polygon points="268.50,72.86 299.47,123.48 296.94,126.96 268.50,80.47" fill="#a83434" stroke="#a83434" stroke-width="0.4"/><polygon points="301.71,120.39 363.61,135.20 357.18,137.29 299.47,123.48" fill="#a83434" stroke="#a83434" stroke-width="0.4"/><polygon points="299.47,123.48 357.18,137.29 349.94,139.64 296.94,126.96" fill="#6e1717" stroke="#6e1717" stroke-width="0.4"/><polygon points="363.61,135.20 322.23,183.56 318.60,182.38 357.18,137.29" fill="#741a1a" stroke="#741a1a" stroke-width="0.4"/><polygon points="357.18,137.29 318.60,182.38 314.51,181.05 349.94,139.64" fill="#a83434" stroke="#a83434" stroke-width="0.4"/><polygon points="322.23,183.56 327.28,247.00 323.31,241.54 318.60,182.38" fill="#741a1a" stroke="#741a1a" stroke-width="0.4"/><polygon points="318.60,182.38 323.31,241.54 318.83,235.37 314.51,181.05" fill="#a83434" stroke="#a83434" stroke-width="0.4"/><polygon points="327.28,247.00 268.50,222.60 268.50,218.78 323.31,241.54" fill="#741a1a" stroke="#741a1a" stroke-width="0.4"/><polygon points="323.31,241.54 268.50,218.78 268.50,214.48 318.83,235.37" fill="#a83434" stroke="#a83434" stroke-width="0.4"/><polygon points="268.50,222.60 209.72,247.00 213.69,241.54 268.50,218.78" fill="#741a1a" stroke="#741a1a" stroke-width="0.4"/><polygon points="268.50,218.78 213.69,241.54 218.17,235.37 268.50,214.48" fill="#a83434" stroke="#a83434" stroke-width="0.4"/><polygon points="209.72,247.00 214.77,183.56 218.40,182.38 213.69,241.54" fill="#a83434" stroke="#a83434" stroke-width="0.4"/><polygon points="213.69,241.54 218.40,182.38 222.49,181.05 218.17,235.37" fill="#6e1717" stroke="#6e1717" stroke-width="0.4"/><polygon points="214.77,183.56 173.39,135.20 179.82,137.29 218.40,182.38" fill="#a83434" stroke="#a83434" stroke-width="0.4"/><polygon points="218.40,182.38 179.82,137.29 187.06,139.64 222.49,181.05" fill="#6e1717" stroke="#6e1717" stroke-width="0.4"/><polygon points="173.39,135.20 235.29,120.39 237.53,123.48 179.82,137.29" fill="#a83434" stroke="#a83434" stroke-width="0.4"/><polygon points="179.82,137.29 237.53,123.48 240.06,126.96 187.06,139.64" fill="#6e1717" stroke="#6e1717" stroke-width="0.4"/><polygon points="235.29,120.39 268.50,66.10 268.50,72.86 237.53,123.48" fill="#a83434" stroke="#a83434" stroke-width="0.4"/><polygon points="237.53,123.48 268.50,72.86 268.50,80.47 240.06,126.96" fill="#6e1717" stroke="#6e1717" stroke-width="0.4"/><polygon points="268.50,72.86 299.47,123.48 357.18,137.29 318.60,182.38 323.31,241.54 268.50,218.78 213.69,241.54 218.40,182.38 179.82,137.29 237.53,123.48" fill="none" stroke="#fbe4de" stroke-width="1" stroke-linejoin="miter"/><path d="M237.8,128.5 H301.6" stroke="#cdc3c3" stroke-width="1"/><path d="M222.8,206.5 H316.6" stroke="#451010" stroke-width="1"/><text transform="matrix(1.0044 0 0 1.0901 240.18 205.30)" x="0" y="0" font-family="'Liberation Sans',sans-serif" font-weight="normal" font-size="100" fill="#31c9c9" stroke="#31c9c9" stroke-width="3.82" stroke-linejoin="round">7</text><g font-family="'Liberation Sans',sans-serif" font-size="16" text-anchor="end" fill="#000"><rect x="34.65" y="34.55" width="15.8" height="18.7" fill="#0a9a0a" stroke="#1a0d0d" stroke-opacity="0.5" stroke-width="0.8"/><text x="33.7" y="49.85">1</text><rect x="34.65" y="58.60" width="15.8" height="18.7" fill="#9a0000" stroke="#1a0d0d" stroke-opacity="0.5" stroke-width="0.8"/><text x="33.7" y="73.90">2</text><rect x="34.65" y="82.65" width="15.8" height="18.7" fill="#0a9a0a" stroke="#1a0d0d" stroke-opacity="0.5" stroke-width="0.8"/><text x="33.7" y="97.95">3</text><rect x="34.65" y="106.70" width="15.8" height="18.7" fill="#9a0000" stroke="#1a0d0d" stroke-opacity="0.5" stroke-width="0.8"/><text x="33.7" y="122.00">4</text><rect x="34.65" y="130.75" width="15.8" height="18.7" fill="#0a9a0a" stroke="#1a0d0d" stroke-opacity="0.5" stroke-width="0.8"/><text x="33.7" y="146.05">5</text><rect x="34.65" y="154.80" width="15.8" height="18.7" fill="#9a0000" stroke="#1a0d0d" stroke-opacity="0.5" stroke-width="0.8"/><text x="33.7" y="170.10">6</text><rect x="34.65" y="178.85" width="15.8" height="18.7" fill="#ff9933" stroke="#1a0d0d" stroke-opacity="0.5" stroke-width="0.8"/><text x="33.7" y="194.15">7</text><rect x="34.65" y="202.90" width="15.8" height="18.7" fill="#9a0000" stroke="#1a0d0d" stroke-opacity="0.5" stroke-width="0.8"/><text x="33.7" y="218.20">8</text><rect x="34.65" y="226.95" width="15.8" height="18.7" fill="#ffffff" stroke="#1a0d0d" stroke-opacity="0.5" stroke-width="0.8"/><text x="33.7" y="242.25">9</text><rect x="34.65" y="251.00" width="15.8" height="18.7" fill="#33cccc" stroke="#1a0d0d" stroke-opacity="0.5" stroke-width="0.8"/><text x="33.7" y="266.30">10</text><rect x="34.65" y="275.05" width="15.8" height="18.7" fill="#00ff00" stroke="#1a0d0d" stroke-opacity="0.5" stroke-width="0.8"/><text x="33.7" y="290.35">11</text><rect x="34.65" y="299.10" width="15.8" height="18.7" fill="#9a0000" stroke="#1a0d0d" stroke-opacity="0.5" stroke-width="0.8"/><text x="33.7" y="314.40">12</text></g></svg><div class="t l" style="top:330.83px">Name: ithsbf5x</div><div class="t l" style="top:351.63px">Datei: ithsbf5x7_7.PES</div><div class="t l" style="top:372.43px">Stiche: 6867</div><div class="t r" style="top:372.43px">Farben: 6/12</div><div class="t l" style="top:393.23px">Größe: 126.0x175.0 mm</div><div class="t r" style="top:393.23px">Stops: 11</div></div>
<div class="c" style="left:826px;top:1316px"><svg class="d" width="413" height="438" viewBox="0 0 413 438"><defs><linearGradient id="og11" x1="0" y1="0" x2="0" y2="1"><stop offset="0" stop-color="#f8c04e"/><stop offset="0.45" stop-color="#f2a838"/><stop offset="1" stop-color="#d98a22"/></linearGradient></defs><rect x="167" y="126" width="203" height="7.4" fill="url(#og11)"/><rect x="167" y="203.8" width="203" height="6.8" fill="url(#og11)"/><path d="M165.40,34.5 H371.60 V208.3 C371.60,253.70 326.00,312.20 268.5,323.90 C211.00,312.20 165.40,253.70 165.40,208.3 Z" fill="none" stroke="#6a1c1c" stroke-width="0.9"/><path d="M167.50,34.5 M369.50,34.5 V208.3 C369.50,253.20 324.80,310.70 268.5,322.60 C212.20,310.70 167.50,253.20 167.50,208.3 V34.5" fill="none" stroke="#782626" stroke-width="0.8"/><path d="M164.5,41 V80 M372.5,41 V80" stroke="#8fd88f" stroke-width="0.8" stroke-dasharray="2 1.2" fill="none"/><polygon points="268.50,80.47 296.94,126.96 349.94,139.64 314.51,181.05 318.83,235.37 268.50,214.48 218.17,235.37 222.49,181.05 187.06,139.64 240.06,126.96" fill="#fff"/><polygon points="268.50,66.10 301.71,120.39 299.47,123.48 268.50,72.86" fill="#741a1a" stroke="#741a1a" stroke-width="0.4"/><polygon points="268.50,72.86 299.47,123.48 296.94,126.96 268.50,80.47" fill="#a83434" stroke="#a83434" stroke-width="0.4"/><polygon points="301.71,120.39 363.61,135.20 357.18,137.29 299.47,123.48" fill="#a83434" stroke="#a83434" stroke-width="0.4"/><polygon points="299.47,123.48 357.18,137.29 349.94,139.64 296.94,126.96" fill="#6e1717" stroke="#6e1717" stroke-width="0.4"/><polygon points="363.61,135.20 322.23,183.56 318.60,182.38 357.18,137.29" fill="#741a1a" stroke="#741a1a" stroke-width="0.4"/><polygon points="357.18,137.29 318.60,182.38 314.51,181.05 349.94,139.64" fill="#a83434" stroke="#a83434" stroke-width="0.4"/><polygon points="322.23,183.56 327.28,247.00 323.31,241.54 318.60,182.38" fill="#741a1a" stroke="#741a1a" stroke-width="0.4"/><polygon points="318.60,182.38 323.31,241.54 318.83,235.37 314.51,181.05" fill="#a83434" stroke="#a83434" stroke-width="0.4"/><polygon points="327.28,247.00 268.50,222.60 268.50,218.78 323.31,241.54" fill="#741a1a" stroke="#741a1a" stroke-width="0.4"/><polygon points="323.31,241.54 268.50,218.78 268.50,214.48 318.83,235.37" fill="#a83434" stroke="#a83434" stroke-width="0.4"/><polygon points="268.50,222.60 209.72,247.00 213.69,241.54 268.50,218.78" fill="#741a1a" stroke="#741a1a" stroke-width="0.4"/><polygon points="268.50,218.78 213.69,241.54 218.17,235.37 268.50,214.48" fill="#a83434" stroke="#a83434" stroke-width="0.4"/><polygon points="209.72,247.00 214.77,183.56 218.40,182.38 213.69,241.54" fill="#a83434" stroke="#a83434" stroke-width="0.4"/><polygon points="213.69,241.54 218.40,182.38 222.49,181.05 218.17,235.37" fill="#6e1717" stroke="#6e1717" stroke-width="0.4"/><polygon points="214.77,183.56 173.39,135.20 179.82,137.29 218.40,182.38" fill="#a83434" stroke="#a83434" stroke-width="0.4"/><polygon points="218.40,182.38 179.82,137.29 187.06,139.64 222.49,181.05" fill="#6e1717" stroke="#6e1717" stroke-width="0.4"/><polygon points="173.39,135.20 235.29,120.39 237.53,123.48 179.82,137.29" fill="#a83434" stroke="#a83434" stroke-width="0.4"/><polygon points="179.82,137.29 237.53,123.48 240.06,126.96 187.06,139.64" fill="#6e1717" stroke="#6e1717" stroke-width="0.4"/><polygon points="235.29,120.39 268.50,66.10 268.50,72.86 237.53,123.48" fill="#a83434" stroke="#a83434" stroke-width="0.4"/><polygon points="237.53,123.48 268.50,72.86 268.50,80.47 240.06,126.96" fill="#6e1717" stroke="#6e1717" stroke-width="0.4"/><polygon points="268.50,72.86 299.47,123.48 357.18,137.29 318.60,182.38 323.31,241.54 268.50,218.78 213.69,241.54 218.40,182.38 179.82,137.29 237.53,123.48" fill="none" stroke="#fbe4de" stroke-width="1" stroke-linejoin="miter"/><path d="M237.8,128.5 H301.6" stroke="#cdc3c3" stroke-width="1"/><path d="M222.8,206.5 H316.6" stroke="#451010" stroke-width="1"/><text transform="matrix(1.2106 0 0 1.0523 234.79 204.25)" x="0" y="0" font-family="'Liberation Sans',sans-serif" font-weight="normal" font-size="100" fill="#31c9c9" stroke="#31c9c9" stroke-width="3.54" stroke-linejoin="round">8</text><g font-family="'Liberation Sans',sans-serif" font-size="16" text-anchor="end" fill="#000"><rect x="34.65" y="34.55" width="15.8" height="18.7" fill="#0a9a0a" stroke="#1a0d0d" stroke-opacity="0.5" stroke-width="0.8"/><text x="33.7" y="49.85">1</text><rect x="34.65" y="58.60" width="15.8" height="18.7" fill="#9a0000" stroke="#1a0d0d" stroke-opacity="0.5" stroke-width="0.8"/><text x="33.7" y="73.90">2</text><rect x="34.65" y="82.65" width="15.8" height="18.7" fill="#0a9a0a" stroke="#1a0d0d" stroke-opacity="0.5" stroke-width="0.8"/><text x="33.7" y="97.95">3</text><rect x="34.65" y="106.70" width="15.8" height="18.7" fill="#9a0000" stroke="#1a0d0d" stroke-opacity="0.5" stroke-width="0.8"/><text x="33.7" y="122.00">4</text><rect x="34.65" y="130.75" width="15.8" height="18.7" fill="#0a9a0a" stroke="#1a0d0d" stroke-opacity="0.5" stroke-width="0.8"/><text x="33.7" y="146.05">5</text><rect x="34.65" y="154.80" width="15.8" height="18.7" fill="#9a0000" stroke="#1a0d0d" stroke-opacity="0.5" stroke-width="0.8"/><text x="33.7" y="170.10">6</text><rect x="34.65" y="178.85" width="15.8" height="18.7" fill="#ff9933" stroke="#1a0d0d" stroke-opacity="0.5" stroke-width="0.8"/><text x="33.7" y="194.15">7</text><rect x="34.65" y="202.90" width="15.8" height="18.7" fill="#9a0000" stroke="#1a0d0d" stroke-opacity="0.5" stroke-width="0.8"/><text x="33.7" y="218.20">8</text><rect x="34.65" y="226.95" width="15.8" height="18.7" fill="#ffffff" stroke="#1a0d0d" stroke-opacity="0.5" stroke-width="0.8"/><text x="33.7" y="242.25">9</text><rect x="34.65" y="251.00" width="15.8" height="18.7" fill="#33cccc" stroke="#1a0d0d" stroke-opacity="0.5" stroke-width="0.8"/><text x="33.7" y="266.30">10</text><rect x="34.65" y="275.05" width="15.8" height="18.7" fill="#00ff00" stroke="#1a0d0d" stroke-opacity="0.5" stroke-width="0.8"/><text x="33.7" y="290.35">11</text><rect x="34.65" y="299.10" width="15.8" height="18.7" fill="#9a0000" stroke="#1a0d0d" stroke-opacity="0.5" stroke-width="0.8"/><text x="33.7" y="314.40">12</text></g></svg><div class="t l" style="top:330.83px">Name: ithsbf5x</div><div class="t l" style="top:351.63px">Datei: ithsbf5x7_8.PES</div><div class="t l" style="top:372.43px">Stiche: 8156</div><div class="t r" style="top:372.43px">Farben: 6/12</div><div class="t l" style="top:393.23px">Größe: 126.0x175.0 mm</div><div class="t r" style="top:393.23px">Stops: 11</div></div>
<div class="f">Seite 1 von 4</div>
</body></html>
